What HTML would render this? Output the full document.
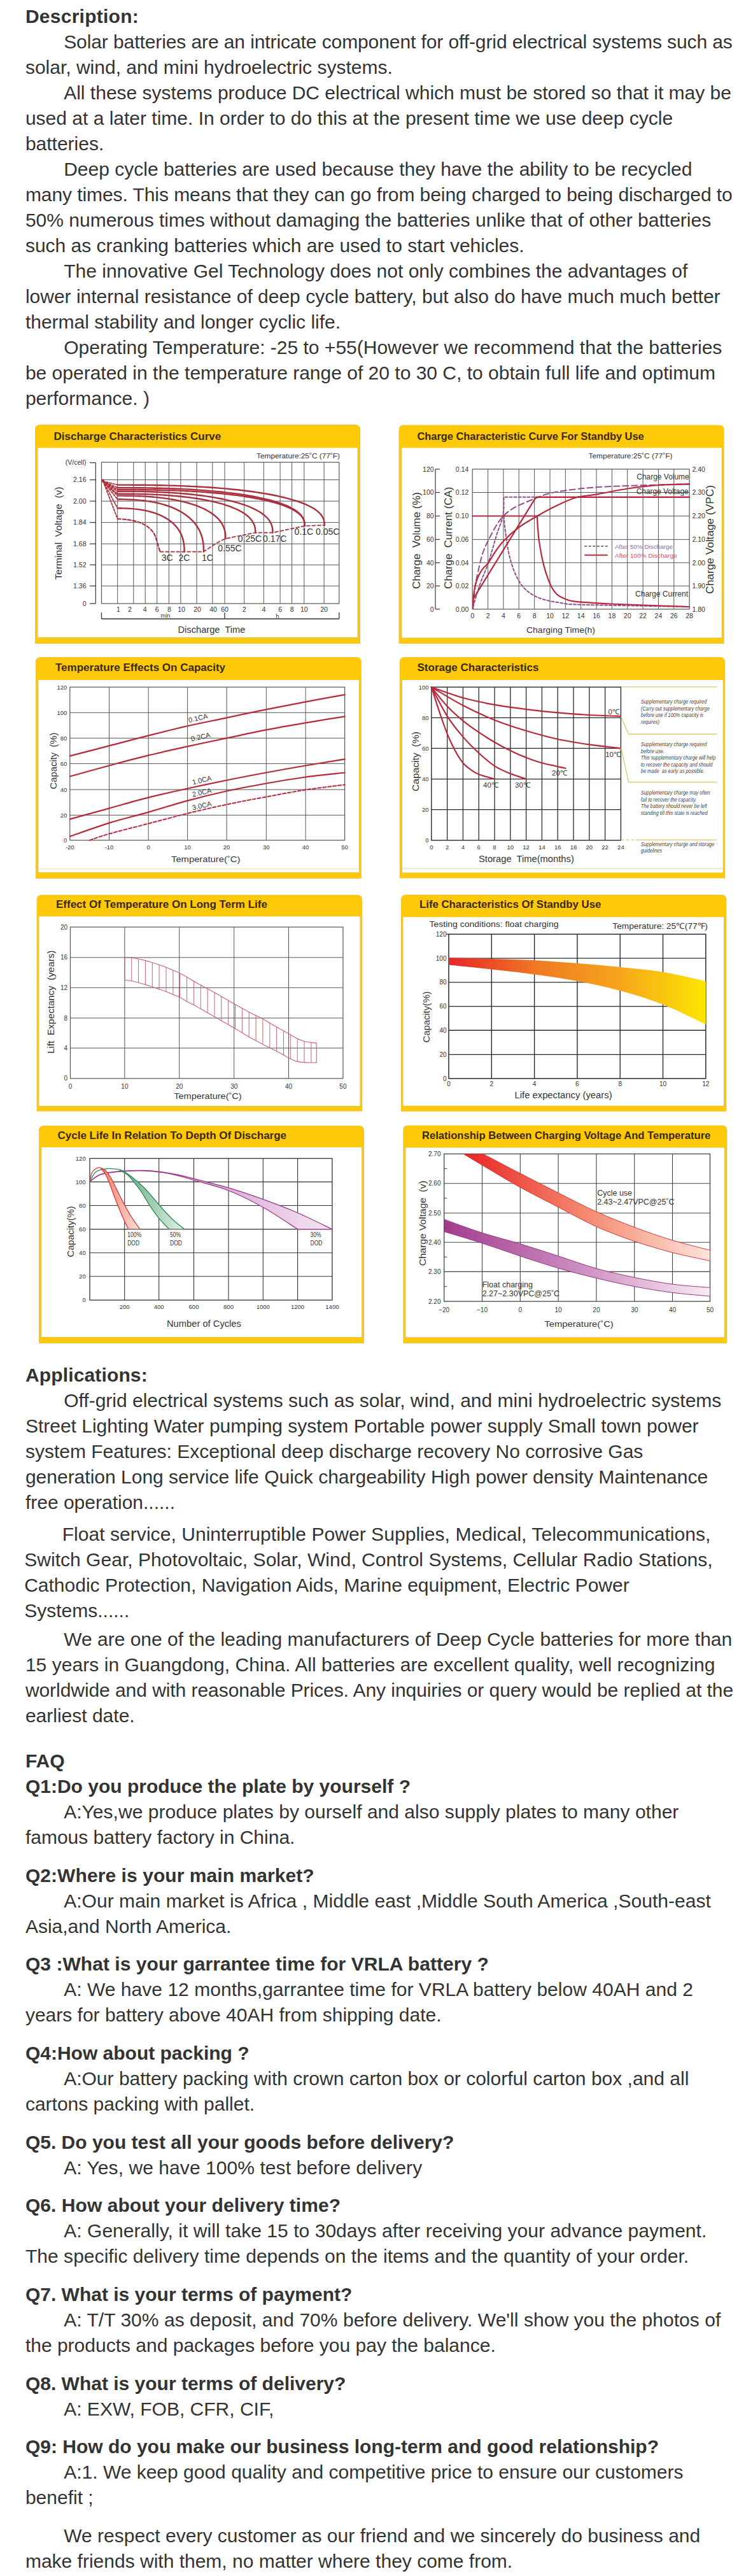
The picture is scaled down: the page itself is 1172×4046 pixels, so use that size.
<!DOCTYPE html>
<html><head><meta charset="utf-8"><title>Solar Gel Battery</title>
<style>
html,body{margin:0;padding:0;background:#fff;}
body{width:1172px;height:4046px;position:relative;overflow:hidden;font-family:"Liberation Sans", sans-serif;}
.tl{position:absolute;white-space:nowrap;font-size:30px;line-height:40px;color:#333333;}
.b{font-weight:bold;}
svg{position:absolute;left:0;top:0;}
svg text{font-family:"Liberation Sans", sans-serif;white-space:pre;}
</style></head><body>
<div class="tl b" style="left:39.9px;top:5.7px;letter-spacing:0.2545px">Description:</div>
<div class="tl" style="left:100.2px;top:45.7px;letter-spacing:-0.0938px">Solar batteries are an intricate component for off-grid electrical systems such as</div>
<div class="tl" style="left:39.9px;top:85.7px">solar, wind, and mini hydroelectric systems.</div>
<div class="tl" style="left:100.2px;top:125.7px">All these systems produce DC electrical which must be stored so that it may be</div>
<div class="tl" style="left:39.9px;top:165.7px">used at a later time. In order to do this at the present time we use deep cycle</div>
<div class="tl" style="left:39.9px;top:205.7px">batteries.</div>
<div class="tl" style="left:100.2px;top:245.7px">Deep cycle batteries are used because they have the ability to be recycled</div>
<div class="tl" style="left:39.9px;top:285.7px;letter-spacing:-0.0738px">many times. This means that they can go from being charged to being discharged to</div>
<div class="tl" style="left:39.9px;top:325.7px">50% numerous times without damaging the batteries unlike that of other batteries</div>
<div class="tl" style="left:39.9px;top:365.7px">such as cranking batteries which are used to start vehicles.</div>
<div class="tl" style="left:100.2px;top:405.7px">The innovative Gel Technology does not only combines the advantages of</div>
<div class="tl" style="left:39.9px;top:445.7px">lower internal resistance of deep cycle battery, but also do have much much better</div>
<div class="tl" style="left:39.9px;top:485.7px">thermal stability and longer cyclic life.</div>
<div class="tl" style="left:100.2px;top:525.7px">Operating Temperature: -25 to +55(However we recommend that the batteries</div>
<div class="tl" style="left:39.9px;top:565.7px">be operated in the temperature range of 20 to 30 C, to obtain full life and optimum</div>
<div class="tl" style="left:39.9px;top:605.7px">performance. )</div>
<div class="tl b" style="left:39.9px;top:2139.9px;letter-spacing:0.1500px">Applications:</div>
<div class="tl" style="left:100.2px;top:2179.9px">Off-grid electrical systems such as solar, wind, and mini hydroelectric systems</div>
<div class="tl" style="left:39.9px;top:2219.9px">Street Lighting Water pumping system Portable power supply Small town power</div>
<div class="tl" style="left:39.9px;top:2259.9px">system Features: Exceptional deep discharge recovery No corrosive Gas</div>
<div class="tl" style="left:39.9px;top:2299.9px">generation Long service life Quick chargeability High power density Maintenance</div>
<div class="tl" style="left:39.9px;top:2339.9px">free operation......</div>
<div class="tl" style="left:97.7px;top:2390.0px;letter-spacing:0.0514px">Float service, Uninterruptible Power Supplies, Medical, Telecommunications,</div>
<div class="tl" style="left:38.2px;top:2430.0px;letter-spacing:0.0338px">Switch Gear, Photovoltaic, Solar, Wind, Control Systems, Cellular Radio Stations,</div>
<div class="tl" style="left:38.2px;top:2470.0px">Cathodic Protection, Navigation Aids, Marine equipment, Electric Power</div>
<div class="tl" style="left:38.2px;top:2510.0px">Systems......</div>
<div class="tl" style="left:100.2px;top:2554.7px">We are one of the leading manufacturers of Deep Cycle batteries for more than</div>
<div class="tl" style="left:39.9px;top:2594.7px;letter-spacing:0.0427px">15 years in Guangdong, China. All batteries are excellent quality, well recognizing</div>
<div class="tl" style="left:39.9px;top:2634.7px;letter-spacing:-0.0614px">worldwide and with reasonable Prices. Any inquiries or query would be replied at the</div>
<div class="tl" style="left:39.9px;top:2674.7px">earliest date.</div>
<div class="tl b" style="left:39.9px;top:2745.8px">FAQ</div>
<div class="tl b" style="left:39.9px;top:2785.8px">Q1:Do you produce the plate by yourself ?</div>
<div class="tl" style="left:100.2px;top:2825.8px;letter-spacing:0.0243px">A:Yes,we produce plates by ourself and also supply plates to many other</div>
<div class="tl" style="left:39.9px;top:2865.8px">famous battery factory in China.</div>
<div class="tl b" style="left:39.9px;top:2925.5px;letter-spacing:0.0714px">Q2:Where is your main market?</div>
<div class="tl" style="left:100.2px;top:2965.5px;letter-spacing:0.0392px">A:Our main market is Africa , Middle east ,Middle South America ,South-east</div>
<div class="tl" style="left:39.9px;top:3005.5px">Asia,and North America.</div>
<div class="tl b" style="left:39.9px;top:3065.1px;letter-spacing:0.0469px">Q3 :What is your garrantee time for VRLA battery ?</div>
<div class="tl" style="left:100.2px;top:3105.1px;letter-spacing:0.0324px">A: We have 12 months,garrantee time for VRLA battery below 40AH and 2</div>
<div class="tl" style="left:39.9px;top:3145.1px">years for battery above 40AH from shipping date.</div>
<div class="tl b" style="left:39.9px;top:3204.8px">Q4:How about packing ?</div>
<div class="tl" style="left:100.2px;top:3244.8px">A:Our battery packing with crown carton box or colorful carton box ,and all</div>
<div class="tl" style="left:39.9px;top:3284.8px">cartons packing with pallet.</div>
<div class="tl b" style="left:39.9px;top:3344.5px">Q5. Do you test all your goods before delivery?</div>
<div class="tl" style="left:100.2px;top:3384.5px;letter-spacing:0.0650px">A: Yes, we have 100% test before delivery</div>
<div class="tl b" style="left:39.9px;top:3444.2px;letter-spacing:0.0531px">Q6. How about your delivery time?</div>
<div class="tl" style="left:100.2px;top:3484.2px;letter-spacing:0.0461px">A: Generally, it will take 15 to 30days after receiving your advance payment.</div>
<div class="tl" style="left:39.9px;top:3524.2px;letter-spacing:0.0423px">The specific delivery time depends on the items and the quantity of your order.</div>
<div class="tl b" style="left:39.9px;top:3583.8px">Q7. What is your terms of payment?</div>
<div class="tl" style="left:100.2px;top:3623.8px;letter-spacing:0.0400px">A: T/T 30% as deposit, and 70% before delivery. We'll show you the photos of</div>
<div class="tl" style="left:39.9px;top:3663.8px">the products and packages before you pay the balance.</div>
<div class="tl b" style="left:39.9px;top:3723.5px">Q8. What is your terms of delivery?</div>
<div class="tl" style="left:100.2px;top:3763.5px">A: EXW, FOB, CFR, CIF,</div>
<div class="tl b" style="left:39.9px;top:3823.2px">Q9: How do you make our business long-term and good relationship?</div>
<div class="tl" style="left:100.2px;top:3863.2px">A:1. We keep good quality and competitive price to ensure our customers</div>
<div class="tl" style="left:39.9px;top:3903.2px">benefit ;</div>
<div class="tl" style="left:100.2px;top:3962.8px;letter-spacing:0.0254px">We respect every customer as our friend and we sincerely do business and</div>
<div class="tl" style="left:39.9px;top:4002.8px">make friends with them, no matter where they come from.</div>
<svg width="1172" height="4046" viewBox="0 0 1172 4046">
<path d="M55,1011 L55,675 Q55,667 63,667 L558,667 Q566,667 566,675 L566,1011 Z" fill="#F1C432"/>
<path d="M56,703.5 L56,675 Q56,668 63,668 L558,668 Q565,668 565,675 L565,703.5 Z" fill="#FDC908"/>
<rect x="56" y="1002.5" width="509.0" height="7.0" fill="#FDC908"/>
<rect x="59.5" y="703.5" width="502.0" height="297.5" fill="#fff"/>
<text x="84.5" y="690.5" font-size="17" font-weight="bold" fill="#3a2806">Discharge Characteristics Curve</text>
<path d="M626.5,1011 L626.5,675.4 Q626.5,667.4 634.5,667.4 L1129.7,667.4 Q1137.7,667.4 1137.7,675.4 L1137.7,1011 Z" fill="#F1C432"/>
<path d="M627.5,703.5 L627.5,675.4 Q627.5,668.4 634.5,668.4 L1129.7,668.4 Q1136.7,668.4 1136.7,675.4 L1136.7,703.5 Z" fill="#FDC908"/>
<rect x="627.5" y="1003.0" width="509.2" height="6.5" fill="#FDC908"/>
<rect x="631.4" y="703.5" width="502.4" height="298.0" fill="#fff"/>
<text x="655.5" y="690.5" font-size="16.4" font-weight="bold" fill="#3a2806">Charge Characteristic Curve For Standby Use</text>
<path d="M56,1380 L56,1040 Q56,1032 64,1032 L559.8,1032 Q567.8,1032 567.8,1040 L567.8,1380 Z" fill="#F1C432"/>
<path d="M57,1068 L57,1040 Q57,1033 64,1033 L559.8,1033 Q566.8,1033 566.8,1040 L566.8,1068 Z" fill="#FDC908"/>
<rect x="57" y="1371.5" width="509.8" height="7.0" fill="#FDC908"/>
<rect x="60.4" y="1068" width="503.5" height="302.0" fill="#fff"/>
<text x="87" y="1053.5" font-size="17" font-weight="bold" fill="#3a2806">Temperature Effects On Capacity</text>
<path d="M627.8,1379.5 L627.8,1040 Q627.8,1032 635.8,1032 L1131,1032 Q1139,1032 1139,1040 L1139,1379.5 Z" fill="#F1C432"/>
<path d="M628.8,1068 L628.8,1040 Q628.8,1033 635.8,1033 L1131,1033 Q1138,1033 1138,1040 L1138,1068 Z" fill="#FDC908"/>
<rect x="628.8" y="1372.0" width="509.2" height="6.0" fill="#FDC908"/>
<rect x="632" y="1068" width="503.6" height="302.5" fill="#fff"/>
<text x="655.5" y="1053.5" font-size="17" font-weight="bold" fill="#3a2806">Storage Characteristics</text>
<path d="M57.6,1745.5 L57.6,1413.5 Q57.6,1405.5 65.6,1405.5 L561,1405.5 Q569,1405.5 569,1413.5 L569,1745.5 Z" fill="#F1C432"/>
<path d="M58.6,1439.4 L58.6,1413.5 Q58.6,1406.5 65.6,1406.5 L561,1406.5 Q568,1406.5 568,1413.5 L568,1439.4 Z" fill="#FDC908"/>
<rect x="58.6" y="1738.5" width="509.4" height="5.5" fill="#FDC908"/>
<rect x="61.4" y="1439.4" width="504.0" height="297.6" fill="#fff"/>
<text x="88" y="1426" font-size="17" font-weight="bold" fill="#3a2806">Effect Of Temperature On Long Term Life</text>
<path d="M630,1745.8 L630,1413.3 Q630,1405.3 638,1405.3 L1133.2,1405.3 Q1141.2,1405.3 1141.2,1413.3 L1141.2,1745.8 Z" fill="#F1C432"/>
<path d="M631,1440.5 L631,1413.3 Q631,1406.3 638,1406.3 L1133.2,1406.3 Q1140.2,1406.3 1140.2,1413.3 L1140.2,1440.5 Z" fill="#FDC908"/>
<rect x="631" y="1738.2" width="509.2" height="6.1" fill="#FDC908"/>
<rect x="633.4" y="1440.5" width="503.6" height="296.2" fill="#fff"/>
<text x="659" y="1426" font-size="16.8" font-weight="bold" fill="#3a2806">Life Characteristics Of Standby Use</text>
<path d="M61,2110 L61,1776 Q61,1768 69,1768 L564,1768 Q572,1768 572,1776 L572,2110 Z" fill="#F1C432"/>
<path d="M62,1802 L62,1776 Q62,1769 69,1769 L564,1769 Q571,1769 571,1776 L571,1802 Z" fill="#FDC908"/>
<rect x="62" y="2101.5" width="509.0" height="7.0" fill="#FDC908"/>
<rect x="65.3" y="1802" width="502.9" height="298.0" fill="#fff"/>
<text x="90.5" y="1788.5" font-size="17" font-weight="bold" fill="#3a2806">Cycle Life In Relation To Depth Of Discharge</text>
<path d="M633.3,2110 L633.3,1775.6 Q633.3,1767.6 641.3,1767.6 L1134.3,1767.6 Q1142.3,1767.6 1142.3,1775.6 L1142.3,2110 Z" fill="#F1C432"/>
<path d="M634.3,1802.6 L634.3,1775.6 Q634.3,1768.6 641.3,1768.6 L1134.3,1768.6 Q1141.3,1768.6 1141.3,1775.6 L1141.3,1802.6 Z" fill="#FDC908"/>
<rect x="634.3" y="2101.8" width="507.0" height="6.7" fill="#FDC908"/>
<rect x="637.4" y="1802.6" width="500.6" height="297.7" fill="#fff"/>
<text x="663" y="1788.8" font-size="16.6" font-weight="bold" fill="#3a2806">Relationship Between Charging Voltage And Temperature</text>
<line x1="184.7" y1="726.1" x2="184.7" y2="948.0" stroke="#555" stroke-width="1" />
<line x1="209.8" y1="726.1" x2="209.8" y2="948.0" stroke="#555" stroke-width="1" />
<line x1="228.2" y1="726.1" x2="228.2" y2="948.0" stroke="#555" stroke-width="1" />
<line x1="246.7" y1="726.1" x2="246.7" y2="948.0" stroke="#555" stroke-width="1" />
<line x1="265.4" y1="726.1" x2="265.4" y2="948.0" stroke="#555" stroke-width="1" />
<line x1="283.9" y1="726.1" x2="283.9" y2="948.0" stroke="#555" stroke-width="1" />
<line x1="309.0" y1="726.1" x2="309.0" y2="948.0" stroke="#555" stroke-width="1" />
<line x1="333.8" y1="726.1" x2="333.8" y2="948.0" stroke="#555" stroke-width="1" />
<line x1="353.0" y1="726.1" x2="353.0" y2="948.0" stroke="#555" stroke-width="1" />
<line x1="383.7" y1="726.1" x2="383.7" y2="948.0" stroke="#555" stroke-width="1" />
<line x1="414.3" y1="726.1" x2="414.3" y2="948.0" stroke="#555" stroke-width="1" />
<line x1="440.1" y1="726.1" x2="440.1" y2="948.0" stroke="#555" stroke-width="1" />
<line x1="458.6" y1="726.1" x2="458.6" y2="948.0" stroke="#555" stroke-width="1" />
<line x1="477.8" y1="726.1" x2="477.8" y2="948.0" stroke="#555" stroke-width="1" />
<line x1="509.1" y1="726.1" x2="509.1" y2="948.0" stroke="#555" stroke-width="1" />
<line x1="159.5" y1="753.6" x2="532.8" y2="753.6" stroke="#555" stroke-width="1" />
<line x1="159.5" y1="787.1" x2="532.8" y2="787.1" stroke="#555" stroke-width="1" />
<line x1="159.5" y1="820.6" x2="532.8" y2="820.6" stroke="#555" stroke-width="1" />
<line x1="159.5" y1="854.2" x2="532.8" y2="854.2" stroke="#555" stroke-width="1" />
<line x1="159.5" y1="887.2" x2="532.8" y2="887.2" stroke="#555" stroke-width="1" />
<line x1="159.5" y1="920.3" x2="532.8" y2="920.3" stroke="#555" stroke-width="1" />
<rect x="159.5" y="726.1" width="373.3" height="221.9" fill="none" stroke="#555" stroke-width="1.2"/>
<line x1="150.3" y1="726.7" x2="150.3" y2="948.0" stroke="#444" stroke-width="1.3" />
<line x1="141.0" y1="726.7" x2="150.3" y2="726.7" stroke="#444" stroke-width="1.3" />
<line x1="141.0" y1="753.6" x2="150.3" y2="753.6" stroke="#444" stroke-width="1.3" />
<line x1="141.0" y1="787.1" x2="150.3" y2="787.1" stroke="#444" stroke-width="1.3" />
<line x1="141.0" y1="820.6" x2="150.3" y2="820.6" stroke="#444" stroke-width="1.3" />
<line x1="141.0" y1="854.2" x2="150.3" y2="854.2" stroke="#444" stroke-width="1.3" />
<line x1="141.0" y1="887.2" x2="150.3" y2="887.2" stroke="#444" stroke-width="1.3" />
<line x1="141.0" y1="920.3" x2="150.3" y2="920.3" stroke="#444" stroke-width="1.3" />
<line x1="141.0" y1="948.0" x2="150.3" y2="948.0" stroke="#444" stroke-width="1.3" />
<text x="135.5" y="730.4" font-size="10.5" text-anchor="end" fill="#333" >(V/cell)</text>
<text x="135.5" y="757.3" font-size="10.5" text-anchor="end" fill="#333" >2.16</text>
<text x="135.5" y="790.8" font-size="10.5" text-anchor="end" fill="#333" >2.00</text>
<text x="135.5" y="824.3" font-size="10.5" text-anchor="end" fill="#333" >1.84</text>
<text x="135.5" y="857.9" font-size="10.5" text-anchor="end" fill="#333" >1.68</text>
<text x="135.5" y="890.9" font-size="10.5" text-anchor="end" fill="#333" >1.52</text>
<text x="135.5" y="924.0" font-size="10.5" text-anchor="end" fill="#333" >1.36</text>
<text x="135.5" y="951.7" font-size="10.5" text-anchor="end" fill="#333" >0</text>
<text x="0" y="0" font-size="15" text-anchor="middle" fill="#333" textLength="146.1" lengthAdjust="spacingAndGlyphs" transform="translate(97.4,837.5) rotate(-90)">Terminal  Voltage  (v)</text>
<text x="534.0" y="719.5" font-size="10" text-anchor="end" fill="#333" textLength="131" lengthAdjust="spacingAndGlyphs">Temperature:25˚C (77˚F)</text>
<text x="186.0" y="960.5" font-size="10.5" text-anchor="middle" fill="#333" >1</text>
<text x="204.0" y="960.5" font-size="10.5" text-anchor="middle" fill="#333" >2</text>
<text x="227.6" y="960.5" font-size="10.5" text-anchor="middle" fill="#333" >4</text>
<text x="246.7" y="960.5" font-size="10.5" text-anchor="middle" fill="#333" >6</text>
<text x="266.0" y="960.5" font-size="10.5" text-anchor="middle" fill="#333" >8</text>
<text x="285.0" y="960.5" font-size="10.5" text-anchor="middle" fill="#333" >10</text>
<text x="310.0" y="960.5" font-size="10.5" text-anchor="middle" fill="#333" >20</text>
<text x="335.0" y="960.5" font-size="10.5" text-anchor="middle" fill="#333" >40</text>
<text x="353.0" y="960.5" font-size="10.5" text-anchor="middle" fill="#333" >60</text>
<text x="383.7" y="960.5" font-size="10.5" text-anchor="middle" fill="#333" >2</text>
<text x="414.3" y="960.5" font-size="10.5" text-anchor="middle" fill="#333" >4</text>
<text x="440.1" y="960.5" font-size="10.5" text-anchor="middle" fill="#333" >6</text>
<text x="458.6" y="960.5" font-size="10.5" text-anchor="middle" fill="#333" >8</text>
<text x="477.8" y="960.5" font-size="10.5" text-anchor="middle" fill="#333" >10</text>
<text x="509.1" y="960.5" font-size="10.5" text-anchor="middle" fill="#333" >20</text>
<text x="260.0" y="970.0" font-size="9.5" text-anchor="middle" fill="#333" >min</text>
<text x="436.0" y="970.5" font-size="9.5" text-anchor="middle" fill="#333" >h</text>
<line x1="159.5" y1="972.0" x2="532.8" y2="972.0" stroke="#333" stroke-width="1.3" />
<line x1="159.5" y1="962.0" x2="159.5" y2="972.0" stroke="#333" stroke-width="1.3" />
<line x1="353.0" y1="962.0" x2="353.0" y2="972.0" stroke="#333" stroke-width="1.3" />
<line x1="532.8" y1="962.0" x2="532.8" y2="972.0" stroke="#333" stroke-width="1.3" />
<text x="279.5" y="993.5" font-size="14" fill="#333" textLength="105.9" lengthAdjust="spacingAndGlyphs">Discharge  Time</text>
<path d="M184.7,761.6 L193.3,761.6 L201.9,761.6 L210.3,761.7 L218.7,761.7 L227.0,761.8 L235.1,761.9 L243.2,762.0 L251.2,762.2 L259.1,762.4 L267.0,762.6 L274.7,762.8 L282.3,763.1 L289.8,763.4 L297.3,763.7 L304.6,764.1 L311.9,764.5 L319.0,764.9 L326.1,765.3 L333.0,765.8 L339.9,766.3 L346.6,766.9 L353.3,767.4 L359.8,768.0 L366.2,768.7 L372.6,769.3 L378.8,770.0 L384.9,770.8 L390.9,771.5 L396.8,772.3 L402.6,773.1 L408.2,774.0 L413.8,774.9 L419.2,775.8 L424.5,776.8 L429.7,777.8 L434.8,778.8 L439.7,779.9 L444.5,781.0 L449.2,782.2 L453.7,783.3 L458.2,784.6 L462.4,785.8 L466.6,787.2 L470.6,788.5 L474.4,789.9 L478.1,791.4 L481.7,792.9 L485.0,794.5 L488.3,796.1 L491.3,797.8 L494.2,799.6 L496.9,801.4 L499.3,803.4 L501.6,805.5 L503.7,807.7 L505.5,810.0 L507.1,812.6 L508.4,815.6 L509.3,819.0 L509.8,825.0" stroke="#ab2e3c" stroke-width="2.4" fill="none" stroke-linecap="round" stroke-linejoin="round" />
<path d="M184.7,766.1 L192.5,766.1 L200.2,766.1 L207.9,766.2 L215.4,766.2 L222.9,766.3 L230.3,766.4 L237.6,766.5 L244.9,766.7 L252.0,766.8 L259.1,767.0 L266.1,767.3 L273.0,767.5 L279.8,767.8 L286.6,768.1 L293.2,768.4 L299.7,768.8 L306.2,769.2 L312.6,769.6 L318.9,770.1 L325.1,770.6 L331.2,771.1 L337.2,771.6 L343.1,772.2 L348.9,772.8 L354.6,773.4 L360.3,774.1 L365.8,774.8 L371.2,775.5 L376.6,776.2 L381.8,777.0 L386.9,777.8 L391.9,778.7 L396.8,779.5 L401.6,780.4 L406.3,781.4 L410.9,782.4 L415.4,783.4 L419.7,784.4 L424.0,785.5 L428.1,786.6 L432.1,787.8 L436.0,789.0 L439.7,790.2 L443.3,791.5 L446.8,792.9 L450.1,794.2 L453.3,795.7 L456.4,797.2 L459.3,798.7 L462.1,800.3 L464.7,802.0 L467.1,803.7 L469.3,805.6 L471.4,807.6 L473.3,809.6 L474.9,811.9 L476.4,814.3 L477.5,817.1 L478.4,820.4 L478.8,826.0" stroke="#ab2e3c" stroke-width="2.4" fill="none" stroke-linecap="round" stroke-linejoin="round" />
<path d="M184.7,769.0 L192.5,769.0 L200.2,769.0 L207.9,769.1 L215.4,769.1 L222.9,769.2 L230.3,769.3 L237.6,769.4 L244.9,769.5 L252.0,769.7 L259.1,769.9 L266.1,770.1 L273.0,770.3 L279.8,770.6 L286.6,770.9 L293.2,771.2 L299.7,771.6 L306.2,772.0 L312.6,772.4 L318.9,772.8 L325.1,773.2 L331.2,773.7 L337.2,774.2 L343.1,774.8 L348.9,775.4 L354.6,776.0 L360.3,776.6 L365.8,777.2 L371.2,777.9 L376.6,778.6 L381.8,779.4 L386.9,780.2 L391.9,781.0 L396.8,781.8 L401.6,782.7 L406.3,783.6 L410.9,784.5 L415.4,785.4 L419.7,786.4 L424.0,787.5 L428.1,788.5 L432.1,789.6 L436.0,790.8 L439.7,792.0 L443.3,793.2 L446.8,794.5 L450.1,795.8 L453.3,797.1 L456.4,798.6 L459.3,800.0 L462.1,801.6 L464.7,803.2 L467.1,804.8 L469.3,806.6 L471.4,808.4 L473.3,810.4 L474.9,812.6 L476.4,814.9 L477.5,817.5 L478.4,820.6 L478.8,826.0" stroke="#ab2e3c" stroke-width="2.4" fill="none" stroke-linecap="round" stroke-linejoin="round" />
<path d="M184.7,771.7 L191.2,771.7 L197.6,771.7 L203.9,771.8 L210.2,771.8 L216.4,771.9 L222.5,772.0 L228.6,772.1 L234.6,772.3 L240.5,772.5 L246.4,772.7 L252.2,773.0 L257.9,773.2 L263.6,773.5 L269.1,773.9 L274.6,774.2 L280.1,774.6 L285.4,775.1 L290.7,775.5 L295.9,776.0 L301.1,776.5 L306.1,777.1 L311.1,777.7 L316.0,778.3 L320.8,778.9 L325.6,779.6 L330.2,780.3 L334.8,781.1 L339.3,781.9 L343.7,782.7 L348.1,783.5 L352.3,784.4 L356.5,785.3 L360.6,786.3 L364.5,787.2 L368.4,788.3 L372.2,789.3 L375.9,790.4 L379.5,791.6 L383.0,792.7 L386.5,794.0 L389.8,795.2 L393.0,796.5 L396.1,797.9 L399.1,799.3 L402.0,800.7 L404.7,802.2 L407.4,803.7 L409.9,805.3 L412.3,807.0 L414.6,808.8 L416.8,810.6 L418.8,812.5 L420.7,814.5 L422.4,816.6 L423.9,818.9 L425.3,821.3 L426.5,823.9 L427.4,826.9 L428.2,830.5 L428.5,836.6" stroke="#ab2e3c" stroke-width="2.4" fill="none" stroke-linecap="round" stroke-linejoin="round" />
<path d="M184.7,775.7 L190.4,775.7 L196.1,775.7 L201.8,775.8 L207.3,775.8 L212.8,775.9 L218.3,776.0 L223.7,776.1 L229.0,776.3 L234.3,776.4 L239.5,776.6 L244.7,776.9 L249.7,777.1 L254.8,777.4 L259.7,777.7 L264.6,778.1 L269.4,778.5 L274.2,778.9 L278.9,779.3 L283.5,779.7 L288.1,780.2 L292.6,780.8 L297.0,781.3 L301.4,781.9 L305.6,782.5 L309.9,783.1 L314.0,783.8 L318.1,784.5 L322.1,785.2 L326.0,786.0 L329.8,786.8 L333.6,787.6 L337.3,788.5 L340.9,789.4 L344.5,790.3 L347.9,791.2 L351.3,792.2 L354.6,793.3 L357.8,794.3 L360.9,795.4 L364.0,796.6 L366.9,797.8 L369.7,799.0 L372.5,800.2 L375.2,801.6 L377.7,802.9 L380.2,804.3 L382.6,805.8 L384.8,807.3 L387.0,808.8 L389.0,810.5 L390.9,812.2 L392.7,814.0 L394.3,815.9 L395.9,817.8 L397.2,820.0 L398.5,822.2 L399.5,824.7 L400.4,827.5 L401.0,830.9 L401.3,836.6" stroke="#ab2e3c" stroke-width="2.4" fill="none" stroke-linecap="round" stroke-linejoin="round" />
<path d="M184.7,778.6 L189.2,778.6 L193.7,778.6 L198.1,778.7 L202.4,778.7 L206.8,778.8 L211.0,778.9 L215.3,779.1 L219.4,779.2 L223.6,779.4 L227.6,779.6 L231.7,779.9 L235.7,780.2 L239.6,780.5 L243.5,780.9 L247.3,781.2 L251.1,781.6 L254.8,782.1 L258.5,782.6 L262.1,783.1 L265.7,783.6 L269.2,784.2 L272.7,784.8 L276.1,785.4 L279.5,786.1 L282.8,786.8 L286.0,787.6 L289.2,788.3 L292.3,789.1 L295.4,790.0 L298.4,790.9 L301.4,791.8 L304.3,792.7 L307.1,793.7 L309.9,794.7 L312.6,795.8 L315.2,796.9 L317.8,798.0 L320.3,799.2 L322.8,800.4 L325.1,801.7 L327.4,803.0 L329.7,804.4 L331.8,805.8 L333.9,807.2 L335.9,808.7 L337.9,810.3 L339.7,811.9 L341.5,813.5 L343.2,815.3 L344.7,817.1 L346.2,819.0 L347.6,821.0 L348.9,823.0 L350.1,825.2 L351.2,827.6 L352.2,830.1 L353.0,832.9 L353.7,836.0 L354.2,839.7 L354.4,846.0" stroke="#ab2e3c" stroke-width="2.4" fill="none" stroke-linecap="round" stroke-linejoin="round" />
<path d="M184.7,784.3 L188.3,784.3 L191.8,784.3 L195.4,784.4 L198.8,784.5 L202.3,784.6 L205.7,784.7 L209.1,784.9 L212.4,785.1 L215.7,785.3 L218.9,785.6 L222.1,785.9 L225.3,786.2 L228.5,786.6 L231.6,787.1 L234.6,787.5 L237.6,788.0 L240.6,788.6 L243.5,789.1 L246.4,789.8 L249.3,790.4 L252.1,791.1 L254.9,791.9 L257.6,792.7 L260.2,793.5 L262.9,794.3 L265.5,795.2 L268.0,796.2 L270.5,797.2 L273.0,798.2 L275.4,799.3 L277.7,800.4 L280.0,801.6 L282.3,802.8 L284.5,804.0 L286.7,805.3 L288.8,806.7 L290.8,808.0 L292.8,809.5 L294.8,811.0 L296.7,812.5 L298.5,814.1 L300.3,815.8 L302.0,817.5 L303.7,819.2 L305.3,821.1 L306.8,823.0 L308.3,824.9 L309.7,827.0 L311.0,829.1 L312.3,831.3 L313.5,833.6 L314.6,836.0 L315.7,838.6 L316.6,841.3 L317.5,844.1 L318.2,847.2 L318.9,850.6 L319.4,854.3 L319.8,858.9 L320.0,866.6" stroke="#ab2e3c" stroke-width="2.4" fill="none" stroke-linecap="round" stroke-linejoin="round" />
<path d="M184.7,798.3 L187.5,798.3 L190.2,798.3 L193.0,798.4 L195.7,798.4 L198.3,798.5 L201.0,798.6 L203.6,798.8 L206.2,798.9 L208.7,799.1 L211.2,799.4 L213.7,799.6 L216.2,799.9 L218.6,800.2 L221.0,800.6 L223.4,801.0 L225.7,801.4 L228.0,801.8 L230.3,802.3 L232.6,802.8 L234.8,803.4 L236.9,804.0 L239.1,804.6 L241.2,805.2 L243.3,805.9 L245.3,806.6 L247.3,807.4 L249.3,808.2 L251.2,809.0 L253.1,809.8 L255.0,810.7 L256.8,811.7 L258.6,812.6 L260.4,813.6 L262.1,814.7 L263.8,815.7 L265.4,816.9 L267.0,818.0 L268.5,819.2 L270.0,820.4 L271.5,821.7 L272.9,823.0 L274.3,824.4 L275.7,825.8 L276.9,827.3 L278.2,828.8 L279.4,830.4 L280.5,832.0 L281.6,833.7 L282.7,835.5 L283.6,837.3 L284.6,839.2 L285.4,841.2 L286.2,843.3 L287.0,845.6 L287.6,847.9 L288.2,850.5 L288.7,853.3 L289.1,856.4 L289.5,860.2 L289.6,866.6" stroke="#ab2e3c" stroke-width="2.4" fill="none" stroke-linecap="round" stroke-linejoin="round" />
<path d="M184.7,815 C212,816 232,822 242,838 C247,848 248,858 251.7,866.6" stroke="#ab2e3c" stroke-width="2.2" fill="none" stroke-linecap="round" stroke-linejoin="round" stroke-dasharray="5,3"/>
<path d="M251.7,866.6 L320,866.6 C330,860 340,852 354.4,846 L401.3,836.6 L428.5,836.6 L478.8,826 L509.8,825" stroke="#ab2e3c" stroke-width="1.7" fill="none" stroke-linecap="round" stroke-linejoin="round" stroke-dasharray="5,3.5"/>
<circle cx="161.5" cy="755" r="2.4" fill="#ab2e3c"/>
<path d="M162,756 L184.7,761.6" stroke="#ab2e3c" stroke-width="1.8" fill="none" stroke-linecap="round" stroke-linejoin="round" stroke-dasharray="3,2.2"/>
<path d="M162,756 L184.7,766.1" stroke="#ab2e3c" stroke-width="1.8" fill="none" stroke-linecap="round" stroke-linejoin="round" stroke-dasharray="3,2.2"/>
<path d="M162,756 L184.7,769" stroke="#ab2e3c" stroke-width="1.8" fill="none" stroke-linecap="round" stroke-linejoin="round" stroke-dasharray="3,2.2"/>
<path d="M162,756 L184.7,771.7" stroke="#ab2e3c" stroke-width="1.8" fill="none" stroke-linecap="round" stroke-linejoin="round" stroke-dasharray="3,2.2"/>
<path d="M162,756 L184.7,775.7" stroke="#ab2e3c" stroke-width="1.8" fill="none" stroke-linecap="round" stroke-linejoin="round" stroke-dasharray="3,2.2"/>
<path d="M162,756 L184.7,778.6" stroke="#ab2e3c" stroke-width="1.8" fill="none" stroke-linecap="round" stroke-linejoin="round" stroke-dasharray="3,2.2"/>
<path d="M162,756 L184.7,784.3" stroke="#ab2e3c" stroke-width="1.8" fill="none" stroke-linecap="round" stroke-linejoin="round" stroke-dasharray="3,2.2"/>
<path d="M162,756 L184.7,798.3" stroke="#ab2e3c" stroke-width="1.8" fill="none" stroke-linecap="round" stroke-linejoin="round" stroke-dasharray="3,2.2"/>
<path d="M162,756 L184.7,815" stroke="#ab2e3c" stroke-width="1.8" fill="none" stroke-linecap="round" stroke-linejoin="round" stroke-dasharray="3,2.2"/>
<text x="262.7" y="881.0" font-size="14" text-anchor="middle" fill="#333" >3C</text>
<text x="289.5" y="881.0" font-size="14" text-anchor="middle" fill="#333" >2C</text>
<text x="326.0" y="881.0" font-size="14" text-anchor="middle" fill="#333" >1C</text>
<text x="361.0" y="865.5" font-size="14" text-anchor="middle" fill="#333" >0.55C</text>
<text x="392.4" y="850.5" font-size="14" text-anchor="middle" fill="#333" >0.25C</text>
<text x="431.8" y="850.5" font-size="14" text-anchor="middle" fill="#333" >0.17C</text>
<text x="477.4" y="840.0" font-size="14" text-anchor="middle" fill="#333" >0.1C</text>
<text x="514.7" y="840.0" font-size="14" text-anchor="middle" fill="#333" >0.05C</text>
<line x1="766.6" y1="736.9" x2="766.6" y2="956.8" stroke="#555" stroke-width="1" />
<line x1="790.9" y1="736.9" x2="790.9" y2="956.8" stroke="#555" stroke-width="1" />
<line x1="815.2" y1="736.9" x2="815.2" y2="956.8" stroke="#555" stroke-width="1" />
<line x1="839.6" y1="736.9" x2="839.6" y2="956.8" stroke="#555" stroke-width="1" />
<line x1="864.0" y1="736.9" x2="864.0" y2="956.8" stroke="#555" stroke-width="1" />
<line x1="888.3" y1="736.9" x2="888.3" y2="956.8" stroke="#555" stroke-width="1" />
<line x1="912.7" y1="736.9" x2="912.7" y2="956.8" stroke="#555" stroke-width="1" />
<line x1="937.0" y1="736.9" x2="937.0" y2="956.8" stroke="#555" stroke-width="1" />
<line x1="961.4" y1="736.9" x2="961.4" y2="956.8" stroke="#555" stroke-width="1" />
<line x1="985.7" y1="736.9" x2="985.7" y2="956.8" stroke="#555" stroke-width="1" />
<line x1="1010.1" y1="736.9" x2="1010.1" y2="956.8" stroke="#555" stroke-width="1" />
<line x1="1034.4" y1="736.9" x2="1034.4" y2="956.8" stroke="#555" stroke-width="1" />
<line x1="1058.8" y1="736.9" x2="1058.8" y2="956.8" stroke="#555" stroke-width="1" />
<line x1="742.2" y1="773.5" x2="1083.1" y2="773.5" stroke="#555" stroke-width="1" />
<line x1="742.2" y1="810.5" x2="1083.1" y2="810.5" stroke="#555" stroke-width="1" />
<line x1="742.2" y1="847.4" x2="1083.1" y2="847.4" stroke="#555" stroke-width="1" />
<line x1="742.2" y1="883.8" x2="1083.1" y2="883.8" stroke="#555" stroke-width="1" />
<line x1="742.2" y1="920.3" x2="1083.1" y2="920.3" stroke="#555" stroke-width="1" />
<rect x="742.2" y="736.9" width="340.9" height="219.9" fill="none" stroke="#555" stroke-width="1.2"/>
<line x1="684.0" y1="736.9" x2="684.0" y2="956.8" stroke="#444" stroke-width="1.3" />
<line x1="684.0" y1="736.9" x2="691.0" y2="736.9" stroke="#444" stroke-width="1.3" />
<text x="681.6" y="740.6" font-size="10.5" text-anchor="end" fill="#333" >120</text>
<line x1="684.0" y1="773.5" x2="691.0" y2="773.5" stroke="#444" stroke-width="1.3" />
<text x="681.6" y="777.2" font-size="10.5" text-anchor="end" fill="#333" >100</text>
<line x1="684.0" y1="810.5" x2="691.0" y2="810.5" stroke="#444" stroke-width="1.3" />
<text x="681.6" y="814.2" font-size="10.5" text-anchor="end" fill="#333" >80</text>
<line x1="684.0" y1="847.4" x2="691.0" y2="847.4" stroke="#444" stroke-width="1.3" />
<text x="681.6" y="851.1" font-size="10.5" text-anchor="end" fill="#333" >60</text>
<line x1="684.0" y1="883.8" x2="691.0" y2="883.8" stroke="#444" stroke-width="1.3" />
<text x="681.6" y="887.5" font-size="10.5" text-anchor="end" fill="#333" >40</text>
<line x1="684.0" y1="920.3" x2="691.0" y2="920.3" stroke="#444" stroke-width="1.3" />
<text x="681.6" y="924.0" font-size="10.5" text-anchor="end" fill="#333" >20</text>
<line x1="684.0" y1="956.8" x2="691.0" y2="956.8" stroke="#444" stroke-width="1.3" />
<text x="681.6" y="960.5" font-size="10.5" text-anchor="end" fill="#333" >0</text>
<text x="736.3" y="740.6" font-size="10.5" text-anchor="end" fill="#333" >0.14</text>
<text x="736.3" y="777.2" font-size="10.5" text-anchor="end" fill="#333" >0.12</text>
<text x="736.3" y="814.2" font-size="10.5" text-anchor="end" fill="#333" >0.10</text>
<text x="736.3" y="851.1" font-size="10.5" text-anchor="end" fill="#333" >0.06</text>
<text x="736.3" y="887.5" font-size="10.5" text-anchor="end" fill="#333" >0.04</text>
<text x="736.3" y="924.0" font-size="10.5" text-anchor="end" fill="#333" >0.02</text>
<text x="736.3" y="960.5" font-size="10.5" text-anchor="end" fill="#333" >0.00</text>
<text x="1087.4" y="740.6" font-size="10.5" text-anchor="start" fill="#333" >2.40</text>
<text x="1087.4" y="777.2" font-size="10.5" text-anchor="start" fill="#333" >2.30</text>
<text x="1087.4" y="814.2" font-size="10.5" text-anchor="start" fill="#333" >2.20</text>
<text x="1087.4" y="851.1" font-size="10.5" text-anchor="start" fill="#333" >2.10</text>
<text x="1087.4" y="887.5" font-size="10.5" text-anchor="start" fill="#333" >2.00</text>
<text x="1087.4" y="924.0" font-size="10.5" text-anchor="start" fill="#333" >1.90</text>
<text x="1087.4" y="960.5" font-size="10.5" text-anchor="start" fill="#333" >1.80</text>
<text x="0" y="0" font-size="16" text-anchor="middle" fill="#333" textLength="152.1" lengthAdjust="spacingAndGlyphs" transform="translate(659.7,849.0) rotate(-90)">Charge  Volume (%)</text>
<text x="0" y="0" font-size="16" text-anchor="middle" fill="#333" textLength="160.5" lengthAdjust="spacingAndGlyphs" transform="translate(709.8,844.8) rotate(-90)">Charge  Current (CA)</text>
<text x="0" y="0" font-size="16" text-anchor="middle" fill="#333" textLength="170.7" lengthAdjust="spacingAndGlyphs" transform="translate(1120.5,847.4) rotate(-90)">Charge Voltage (VPC)</text>
<text x="742.2" y="970.5" font-size="10.5" text-anchor="middle" fill="#333" >0</text>
<text x="766.6" y="970.5" font-size="10.5" text-anchor="middle" fill="#333" >2</text>
<text x="790.9" y="970.5" font-size="10.5" text-anchor="middle" fill="#333" >4</text>
<text x="815.2" y="970.5" font-size="10.5" text-anchor="middle" fill="#333" >6</text>
<text x="839.6" y="970.5" font-size="10.5" text-anchor="middle" fill="#333" >8</text>
<text x="864.0" y="970.5" font-size="10.5" text-anchor="middle" fill="#333" >10</text>
<text x="888.3" y="970.5" font-size="10.5" text-anchor="middle" fill="#333" >12</text>
<text x="912.7" y="970.5" font-size="10.5" text-anchor="middle" fill="#333" >14</text>
<text x="937.0" y="970.5" font-size="10.5" text-anchor="middle" fill="#333" >16</text>
<text x="961.4" y="970.5" font-size="10.5" text-anchor="middle" fill="#333" >18</text>
<text x="985.7" y="970.5" font-size="10.5" text-anchor="middle" fill="#333" >20</text>
<text x="1010.1" y="970.5" font-size="10.5" text-anchor="middle" fill="#333" >22</text>
<text x="1034.4" y="970.5" font-size="10.5" text-anchor="middle" fill="#333" >24</text>
<text x="1058.8" y="970.5" font-size="10.5" text-anchor="middle" fill="#333" >26</text>
<text x="1083.1" y="970.5" font-size="10.5" text-anchor="middle" fill="#333" >28</text>
<text x="827.0" y="994.0" font-size="13.5" fill="#333" textLength="108.0" lengthAdjust="spacingAndGlyphs">Charging Time(h)</text>
<text x="1056.5" y="719.5" font-size="10" text-anchor="end" fill="#333" textLength="132" lengthAdjust="spacingAndGlyphs">Temperature:25˚C (77˚F)</text>
<path d="M743.0,952.9 C743.6,947.6 745.1,930.1 746.4,921.0 C747.7,911.9 749.1,906.6 751.0,898.2 C752.9,889.9 755.1,879.1 757.8,870.9 C760.4,862.7 763.1,857.0 766.9,849.2 C770.7,841.4 776.5,830.7 780.6,824.1 C784.7,817.5 787.7,813.8 791.5,809.8 C795.3,805.8 799.3,802.9 803.4,800.2 C807.5,797.5 809.8,796.2 815.9,793.4 C822.0,790.5 832.2,786.2 840.3,783.1 C848.4,780.0 853.6,777.2 864.4,774.7 C875.1,772.2 888.9,770.1 904.8,768.3 C920.7,766.5 930.3,765.4 960.0,764.0 C989.7,762.6 1062.5,760.8 1083.0,760.2" stroke="#94508a" stroke-width="2" fill="none" stroke-linecap="round" stroke-linejoin="round" stroke-dasharray="9,5"/>
<path d="M743.0,953.0 C745.0,946.7 751.0,926.4 755.0,915.0 C759.0,903.6 762.7,897.2 767.0,884.5 C771.3,871.8 777.0,850.4 780.6,839.0 C784.2,827.6 786.8,822.5 788.6,816.0 C790.4,809.5 791.0,802.7 791.5,800.0 L791.5,780.8 L1083,780.8" stroke="#94508a" stroke-width="2" fill="none" stroke-linecap="round" stroke-linejoin="round" stroke-dasharray="4,3"/>
<path d="M791.5,810.5 C791.8,813.4 792.5,821.7 793.1,827.6 C793.8,833.5 794.5,839.3 795.4,845.8 C796.3,852.2 797.5,859.8 798.8,866.3 C800.1,872.8 801.5,878.4 803.4,884.5 C805.3,890.6 807.6,897.1 810.2,902.8 C812.9,908.5 815.9,914.2 819.3,918.7 C822.7,923.2 826.5,926.9 830.7,930.1 C834.9,933.3 839.1,935.8 844.4,938.1 C849.7,940.4 856.1,942.3 862.6,943.8 C869.1,945.3 876.1,946.2 883.1,947.2 C890.1,948.2 885.3,948.8 904.8,949.5 C924.3,950.2 970.3,950.9 1000.0,951.5 C1029.7,952.1 1069.2,952.8 1083.0,953.0" stroke="#94508a" stroke-width="2" fill="none" stroke-linecap="round" stroke-linejoin="round" stroke-dasharray="4,3"/>
<path d="M742.2,810.5 L843.9,810.5" stroke="#b8283a" stroke-width="2.2" fill="none" stroke-linecap="round" stroke-linejoin="round" />
<path d="M843.9,810.5 C844.0,813.4 844.3,821.3 844.8,827.6 C845.3,833.9 845.8,841.3 846.7,848.1 C847.6,854.9 848.8,861.8 850.1,868.6 C851.4,875.4 852.9,882.7 854.6,889.1 C856.3,895.5 858.2,901.6 860.3,907.3 C862.4,913.0 864.5,918.7 867.2,923.3 C869.9,927.9 872.5,931.7 876.3,934.7 C880.1,937.7 885.2,939.8 890.0,941.5 C894.8,943.2 893.1,943.7 904.8,944.9 C916.5,946.1 930.3,947.1 960.0,948.5 C989.7,949.9 1062.5,952.2 1083.0,953.0" stroke="#b8283a" stroke-width="2.2" fill="none" stroke-linecap="round" stroke-linejoin="round" />
<path d="M743,941.5 L842,780.8 L1083,780.8" stroke="#b8283a" stroke-width="2.2" fill="none" stroke-linecap="round" stroke-linejoin="round" />
<path d="M743.0,955.2 C743.2,951.8 743.4,941.2 744.1,934.7 C744.9,928.2 746.0,921.9 747.5,916.4 C749.0,910.9 751.1,905.8 753.2,901.6 C755.3,897.4 757.8,894.2 760.1,891.4 C762.4,888.5 763.9,888.7 766.9,884.5 C769.9,880.3 774.2,872.2 778.3,866.3 C782.4,860.4 785.4,855.5 791.5,849.2 C797.6,842.9 806.7,834.8 814.8,828.7 C822.9,822.6 830.8,818.2 840.3,812.7 C849.8,807.2 861.0,800.8 871.7,795.6 C882.5,790.4 893.8,784.7 904.8,781.5 C915.8,778.3 924.0,778.7 937.5,776.4 C951.0,774.1 969.8,769.9 986.0,767.5 C1002.2,765.1 1018.3,763.2 1034.5,762.0 C1050.7,760.8 1074.9,760.7 1083.0,760.4" stroke="#b8283a" stroke-width="2.2" fill="none" stroke-linecap="round" stroke-linejoin="round" />
<text x="1000.3" y="753.0" font-size="12" fill="#333" textLength="82.4" lengthAdjust="spacingAndGlyphs">Charge Volume</text>
<text x="999.7" y="776.3" font-size="12" fill="#333" textLength="82.0" lengthAdjust="spacingAndGlyphs">Charge Voltage</text>
<text x="998.0" y="936.5" font-size="12" fill="#333" textLength="83.0" lengthAdjust="spacingAndGlyphs">Charge Current</text>
<line x1="918.2" y1="857.8" x2="954.7" y2="857.8" stroke="#7a5a8a" stroke-width="1.8" stroke-dasharray="4,2.5"/>
<line x1="918.2" y1="871.9" x2="954.7" y2="871.9" stroke="#c8404a" stroke-width="2.4" />
<text x="966.0" y="861.6" font-size="9.5" text-anchor="start" fill="#8a6aa8" textLength="91" lengthAdjust="spacingAndGlyphs">After 50% Discharge</text>
<text x="966.0" y="876.0" font-size="9.5" text-anchor="start" fill="#d05060" textLength="97.6" lengthAdjust="spacingAndGlyphs">After 100% Discharge</text>
<line x1="171.5" y1="1079.2" x2="171.5" y2="1319.7" stroke="#555" stroke-width="1" />
<line x1="233.2" y1="1079.2" x2="233.2" y2="1319.7" stroke="#555" stroke-width="1" />
<line x1="294.6" y1="1079.2" x2="294.6" y2="1319.7" stroke="#555" stroke-width="1" />
<line x1="356.1" y1="1079.2" x2="356.1" y2="1319.7" stroke="#555" stroke-width="1" />
<line x1="418.3" y1="1079.2" x2="418.3" y2="1319.7" stroke="#555" stroke-width="1" />
<line x1="480.1" y1="1079.2" x2="480.1" y2="1319.7" stroke="#555" stroke-width="1" />
<line x1="109.8" y1="1119.3" x2="541.6" y2="1119.3" stroke="#555" stroke-width="1" />
<line x1="109.8" y1="1159.3" x2="541.6" y2="1159.3" stroke="#555" stroke-width="1" />
<line x1="109.8" y1="1199.4" x2="541.6" y2="1199.4" stroke="#555" stroke-width="1" />
<line x1="109.8" y1="1240.2" x2="541.6" y2="1240.2" stroke="#555" stroke-width="1" />
<line x1="109.8" y1="1280.3" x2="541.6" y2="1280.3" stroke="#555" stroke-width="1" />
<rect x="109.8" y="1079.2" width="431.8" height="240.5" fill="none" stroke="#555" stroke-width="1.2"/>
<text x="105.3" y="1082.5" font-size="9.5" text-anchor="end" fill="#333" >120</text>
<text x="105.3" y="1122.6" font-size="9.5" text-anchor="end" fill="#333" >100</text>
<text x="105.3" y="1162.6" font-size="9.5" text-anchor="end" fill="#333" >80</text>
<text x="105.3" y="1202.7" font-size="9.5" text-anchor="end" fill="#333" >60</text>
<text x="105.3" y="1243.5" font-size="9.5" text-anchor="end" fill="#333" >40</text>
<text x="105.3" y="1283.6" font-size="9.5" text-anchor="end" fill="#333" >20</text>
<text x="105.3" y="1323.0" font-size="9.5" text-anchor="end" fill="#333" >0</text>
<text x="109.8" y="1334.0" font-size="9.5" text-anchor="middle" fill="#333" >-20</text>
<text x="171.5" y="1334.0" font-size="9.5" text-anchor="middle" fill="#333" >-10</text>
<text x="233.2" y="1334.0" font-size="9.5" text-anchor="middle" fill="#333" >0</text>
<text x="294.6" y="1334.0" font-size="9.5" text-anchor="middle" fill="#333" >10</text>
<text x="356.1" y="1334.0" font-size="9.5" text-anchor="middle" fill="#333" >20</text>
<text x="418.3" y="1334.0" font-size="9.5" text-anchor="middle" fill="#333" >30</text>
<text x="480.1" y="1334.0" font-size="9.5" text-anchor="middle" fill="#333" >40</text>
<text x="541.6" y="1334.0" font-size="9.5" text-anchor="middle" fill="#333" >50</text>
<text x="0" y="0" font-size="14" text-anchor="middle" fill="#333" textLength="88.9" lengthAdjust="spacingAndGlyphs" transform="translate(89.0,1195.0) rotate(-90)">Capacity  (%)</text>
<text x="269.0" y="1353.5" font-size="13.5" fill="#333" textLength="108.4" lengthAdjust="spacingAndGlyphs">Temperature(˚C)</text>
<path d="M109.8,1187.4 C120.1,1184.8 150.9,1176.7 171.5,1171.4 C192.1,1166.1 212.7,1160.5 233.2,1155.4 C253.7,1150.2 274.1,1145.0 294.6,1140.3 C315.1,1135.7 335.5,1131.7 356.1,1127.3 C376.7,1123.0 397.6,1118.5 418.3,1114.3 C439.0,1110.1 459.6,1106.1 480.1,1102.3 C500.7,1098.4 531.4,1093.1 541.6,1091.2" stroke="#b8283a" stroke-width="2.2" fill="none" stroke-linecap="round" stroke-linejoin="round" />
<path d="M109.8,1219.5 C120.1,1216.7 150.9,1208.0 171.5,1202.5 C192.1,1197.0 212.7,1191.4 233.2,1186.4 C253.7,1181.4 274.1,1176.9 294.6,1172.4 C315.1,1167.9 335.5,1163.7 356.1,1159.4 C376.7,1155.0 397.6,1150.4 418.3,1146.4 C439.0,1142.3 459.6,1138.8 480.1,1135.3 C500.7,1131.8 531.4,1127.0 541.6,1125.3" stroke="#b8283a" stroke-width="2.2" fill="none" stroke-linecap="round" stroke-linejoin="round" />
<path d="M109.8,1286.6 C120.1,1283.8 150.9,1275.3 171.5,1269.6 C192.1,1263.9 212.7,1257.7 233.2,1252.6 C253.7,1247.4 274.1,1243.0 294.6,1238.5 C315.1,1234.0 335.5,1229.7 356.1,1225.5 C376.7,1221.3 397.6,1217.3 418.3,1213.5 C439.0,1209.6 459.6,1206.0 480.1,1202.5 C500.7,1199.0 531.4,1194.1 541.6,1192.4" stroke="#b8283a" stroke-width="2.2" fill="none" stroke-linecap="round" stroke-linejoin="round" />
<path d="M109.8,1313.7 C120.1,1310.2 150.9,1299.0 171.5,1292.6 C192.1,1286.3 212.7,1281.5 233.2,1275.6 C253.7,1269.8 274.1,1263.1 294.6,1257.6 C315.1,1252.1 335.5,1247.1 356.1,1242.5 C376.7,1238.0 397.6,1234.2 418.3,1230.5 C439.0,1226.8 459.6,1223.3 480.1,1220.5 C500.7,1217.7 531.4,1214.7 541.6,1213.5" stroke="#b8283a" stroke-width="2.2" fill="none" stroke-linecap="round" stroke-linejoin="round" />
<path d="M140.9,1319.7 C146.0,1318.0 156.1,1314.0 171.5,1309.7 C186.9,1305.3 212.7,1299.0 233.2,1293.6 C253.7,1288.3 274.1,1282.6 294.6,1277.6 C315.1,1272.6 335.5,1267.9 356.1,1263.6 C376.7,1259.2 397.6,1255.4 418.3,1251.6 C439.0,1247.7 459.6,1243.7 480.1,1240.5 C500.7,1237.4 531.4,1233.9 541.6,1232.5" stroke="#b8283a" stroke-width="2" fill="none" stroke-linecap="round" stroke-linejoin="round" stroke-dasharray="5,3"/>
<text x="297.0" y="1135.0" font-size="11" text-anchor="start" fill="#333" transform="rotate(-13 297 1135)">0.1CA</text>
<text x="301.0" y="1164.6" font-size="11" text-anchor="start" fill="#333" transform="rotate(-13 301 1164.6)">0.2CA</text>
<text x="303.0" y="1232.5" font-size="11" text-anchor="start" fill="#333" transform="rotate(-13 303 1232.5)">1.0CA</text>
<text x="303.0" y="1251.7" font-size="11" text-anchor="start" fill="#333" transform="rotate(-13 303 1251.7)">2.0CA</text>
<text x="303.0" y="1272.6" font-size="11" text-anchor="start" fill="#333" transform="rotate(-13 303 1272.6)">3.0CA</text>
<line x1="60.4" y1="1364.8" x2="563.9" y2="1364.8" stroke="#e6e2b4" stroke-width="1" />
<line x1="632.0" y1="1364.5" x2="1135.6" y2="1364.5" stroke="#e6e2b4" stroke-width="1" />
<line x1="702.6" y1="1079.2" x2="702.6" y2="1319.8" stroke="#2a2a2a" stroke-width="1.3" />
<line x1="727.4" y1="1079.2" x2="727.4" y2="1319.8" stroke="#2a2a2a" stroke-width="1.3" />
<line x1="752.2" y1="1079.2" x2="752.2" y2="1319.8" stroke="#2a2a2a" stroke-width="1.3" />
<line x1="777.0" y1="1079.2" x2="777.0" y2="1319.8" stroke="#2a2a2a" stroke-width="1.3" />
<line x1="801.8" y1="1079.2" x2="801.8" y2="1319.8" stroke="#2a2a2a" stroke-width="1.3" />
<line x1="826.6" y1="1079.2" x2="826.6" y2="1319.8" stroke="#2a2a2a" stroke-width="1.3" />
<line x1="851.4" y1="1079.2" x2="851.4" y2="1319.8" stroke="#2a2a2a" stroke-width="1.3" />
<line x1="876.2" y1="1079.2" x2="876.2" y2="1319.8" stroke="#2a2a2a" stroke-width="1.3" />
<line x1="901.0" y1="1079.2" x2="901.0" y2="1319.8" stroke="#2a2a2a" stroke-width="1.3" />
<line x1="925.8" y1="1079.2" x2="925.8" y2="1319.8" stroke="#2a2a2a" stroke-width="1.3" />
<line x1="950.6" y1="1079.2" x2="950.6" y2="1319.8" stroke="#2a2a2a" stroke-width="1.3" />
<line x1="677.8" y1="1127.3" x2="975.4" y2="1127.3" stroke="#2a2a2a" stroke-width="1.3" />
<line x1="677.8" y1="1175.4" x2="975.4" y2="1175.4" stroke="#2a2a2a" stroke-width="1.3" />
<line x1="677.8" y1="1223.6" x2="975.4" y2="1223.6" stroke="#2a2a2a" stroke-width="1.3" />
<line x1="677.8" y1="1271.7" x2="975.4" y2="1271.7" stroke="#2a2a2a" stroke-width="1.3" />
<rect x="677.8" y="1079.2" width="297.6" height="240.6" fill="none" stroke="#2a2a2a" stroke-width="1.4"/>
<text x="673.6" y="1082.5" font-size="9.5" text-anchor="end" fill="#333" >100</text>
<text x="673.6" y="1130.6" font-size="9.5" text-anchor="end" fill="#333" >80</text>
<text x="673.6" y="1178.7" font-size="9.5" text-anchor="end" fill="#333" >60</text>
<text x="673.6" y="1226.9" font-size="9.5" text-anchor="end" fill="#333" >40</text>
<text x="673.6" y="1275.0" font-size="9.5" text-anchor="end" fill="#333" >20</text>
<text x="673.6" y="1323.1" font-size="9.5" text-anchor="end" fill="#333" >0</text>
<text x="677.8" y="1334.0" font-size="9.5" text-anchor="middle" fill="#333" >0</text>
<text x="702.6" y="1334.0" font-size="9.5" text-anchor="middle" fill="#333" >2</text>
<text x="727.4" y="1334.0" font-size="9.5" text-anchor="middle" fill="#333" >4</text>
<text x="752.2" y="1334.0" font-size="9.5" text-anchor="middle" fill="#333" >6</text>
<text x="777.0" y="1334.0" font-size="9.5" text-anchor="middle" fill="#333" >8</text>
<text x="801.8" y="1334.0" font-size="9.5" text-anchor="middle" fill="#333" >10</text>
<text x="826.6" y="1334.0" font-size="9.5" text-anchor="middle" fill="#333" >12</text>
<text x="851.4" y="1334.0" font-size="9.5" text-anchor="middle" fill="#333" >14</text>
<text x="876.2" y="1334.0" font-size="9.5" text-anchor="middle" fill="#333" >16</text>
<text x="901.0" y="1334.0" font-size="9.5" text-anchor="middle" fill="#333" >18</text>
<text x="925.8" y="1334.0" font-size="9.5" text-anchor="middle" fill="#333" >20</text>
<text x="950.6" y="1334.0" font-size="9.5" text-anchor="middle" fill="#333" >22</text>
<text x="975.4" y="1334.0" font-size="9.5" text-anchor="middle" fill="#333" >24</text>
<text x="0" y="0" font-size="14" text-anchor="middle" fill="#333" textLength="94.1" lengthAdjust="spacingAndGlyphs" transform="translate(658.0,1196.0) rotate(-90)">Capacity  (%)</text>
<text x="752.0" y="1354.0" font-size="14" fill="#333" textLength="149.8" lengthAdjust="spacingAndGlyphs">Storage  Time(months)</text>
<path d="M677.8,1079.2 C679.9,1085.6 686.1,1105.5 690.2,1117.7 C694.3,1129.9 698.5,1142.4 702.6,1152.6 C706.7,1162.8 710.9,1171.4 715.0,1179.0 C719.1,1186.7 723.3,1193.3 727.4,1198.3 C731.5,1203.3 735.7,1206.1 739.8,1209.1 C743.9,1212.1 746.0,1213.9 752.2,1216.3 C758.4,1218.7 772.9,1222.4 777.0,1223.6" stroke="#b8283a" stroke-width="2.2" fill="none" stroke-linecap="round" stroke-linejoin="round" />
<path d="M677.8,1079.2 C681.9,1086.8 694.3,1111.9 702.6,1124.9 C710.9,1137.9 719.1,1147.8 727.4,1157.4 C735.7,1167.0 743.9,1175.0 752.2,1182.7 C760.5,1190.3 768.7,1197.7 777.0,1203.1 C785.3,1208.5 793.5,1211.7 801.8,1215.1 C810.1,1218.5 822.5,1222.2 826.6,1223.6" stroke="#b8283a" stroke-width="2.2" fill="none" stroke-linecap="round" stroke-linejoin="round" />
<path d="M677.8,1079.2 C681.9,1084.2 694.3,1100.5 702.6,1109.3 C710.9,1118.1 719.1,1125.3 727.4,1132.1 C735.7,1138.9 743.9,1144.6 752.2,1150.2 C760.5,1155.8 768.7,1161.0 777.0,1165.8 C785.3,1170.6 793.5,1175.0 801.8,1179.0 C810.1,1183.1 818.3,1186.7 826.6,1189.9 C834.9,1193.1 841.1,1195.5 851.4,1198.3 C861.7,1201.1 882.4,1205.3 888.6,1206.7" stroke="#b8283a" stroke-width="2.2" fill="none" stroke-linecap="round" stroke-linejoin="round" />
<path d="M677.8,1079.2 C686.1,1084.0 710.9,1099.5 727.4,1108.1 C743.9,1116.7 760.5,1124.3 777.0,1130.9 C793.5,1137.5 810.1,1142.8 826.6,1147.8 C843.1,1152.8 859.7,1157.4 876.2,1161.0 C892.7,1164.6 909.3,1167.0 925.8,1169.4 C942.3,1171.8 967.1,1174.4 975.4,1175.4" stroke="#b8283a" stroke-width="2.2" fill="none" stroke-linecap="round" stroke-linejoin="round" />
<path d="M677.8,1079.2 C686.1,1082.0 710.9,1091.4 727.4,1096.0 C743.9,1100.7 760.5,1103.9 777.0,1106.9 C793.5,1109.9 810.1,1112.0 826.6,1114.1 C843.1,1116.2 859.7,1117.9 876.2,1119.4 C892.7,1120.9 909.3,1122.1 925.8,1123.0 C942.3,1123.9 967.1,1124.6 975.4,1124.9" stroke="#b8283a" stroke-width="2.2" fill="none" stroke-linecap="round" stroke-linejoin="round" />
<text x="771.0" y="1237.0" font-size="11.5" text-anchor="middle" fill="#333" >40℃</text>
<text x="821.0" y="1237.0" font-size="11.5" text-anchor="middle" fill="#333" >30℃</text>
<text x="879.0" y="1218.0" font-size="11.5" text-anchor="middle" fill="#333" >20℃</text>
<text x="973.0" y="1121.5" font-size="11.5" text-anchor="end" fill="#333" >0℃</text>
<text x="975.0" y="1189.0" font-size="11.5" text-anchor="end" fill="#333" >10℃</text>
<path d="M976.8,1078.8 L1126,1078.8" stroke="#d9c870" stroke-width="1.3" fill="none" stroke-linecap="round" stroke-linejoin="round" />
<path d="M975.7,1125.9 L987.6,1153 L1126,1153" stroke="#d9c870" stroke-width="1.3" fill="none" stroke-linecap="round" stroke-linejoin="round" />
<path d="M975.7,1175 L987.6,1228.3 L1126,1228.3" stroke="#d9c870" stroke-width="1.3" fill="none" stroke-linecap="round" stroke-linejoin="round" />
<path d="M976,1319.1 L998.5,1319.1" stroke="#d9c870" stroke-width="1.3" fill="none" stroke-linecap="round" stroke-linejoin="round" stroke-dasharray="4,4"/>
<path d="M998.5,1319.1 L1126,1319.1" stroke="#d9c870" stroke-width="1.3" fill="none" stroke-linecap="round" stroke-linejoin="round" />
<text x="1006.8" y="1105.3" font-size="8.6" text-anchor="start" fill="#444" font-style="italic" transform="translate(1006.8 0) scale(0.86 1) translate(-1006.8 0)">Supplementary charge required</text>
<text x="1006.8" y="1115.8" font-size="8.6" text-anchor="start" fill="#444" font-style="italic" transform="translate(1006.8 0) scale(0.86 1) translate(-1006.8 0)">(Carry out supplementary charge</text>
<text x="1006.8" y="1126.3" font-size="8.6" text-anchor="start" fill="#444" font-style="italic" transform="translate(1006.8 0) scale(0.86 1) translate(-1006.8 0)">before use if 100% capacity is</text>
<text x="1006.8" y="1136.8" font-size="8.6" text-anchor="start" fill="#444" font-style="italic" transform="translate(1006.8 0) scale(0.86 1) translate(-1006.8 0)">requires)</text>
<text x="1006.8" y="1172.3" font-size="8.6" text-anchor="start" fill="#444" font-style="italic" transform="translate(1006.8 0) scale(0.86 1) translate(-1006.8 0)">Supplementary charge required</text>
<text x="1006.8" y="1182.8" font-size="8.6" text-anchor="start" fill="#444" font-style="italic" transform="translate(1006.8 0) scale(0.86 1) translate(-1006.8 0)">before use.</text>
<text x="1006.8" y="1193.3" font-size="8.6" text-anchor="start" fill="#444" font-style="italic" transform="translate(1006.8 0) scale(0.86 1) translate(-1006.8 0)">This supplementary charge will help</text>
<text x="1006.8" y="1203.8" font-size="8.6" text-anchor="start" fill="#444" font-style="italic" transform="translate(1006.8 0) scale(0.86 1) translate(-1006.8 0)">to recover the capacity and should</text>
<text x="1006.8" y="1214.3" font-size="8.6" text-anchor="start" fill="#444" font-style="italic" transform="translate(1006.8 0) scale(0.86 1) translate(-1006.8 0)">be made  as early as possible.</text>
<text x="1006.8" y="1248.3" font-size="8.6" text-anchor="start" fill="#444" font-style="italic" transform="translate(1006.8 0) scale(0.86 1) translate(-1006.8 0)">Supplementary charge may often</text>
<text x="1006.8" y="1258.8" font-size="8.6" text-anchor="start" fill="#444" font-style="italic" transform="translate(1006.8 0) scale(0.86 1) translate(-1006.8 0)">fail to recover the capacity.</text>
<text x="1006.8" y="1269.3" font-size="8.6" text-anchor="start" fill="#444" font-style="italic" transform="translate(1006.8 0) scale(0.86 1) translate(-1006.8 0)">The battery should never be left</text>
<text x="1006.8" y="1279.8" font-size="8.6" text-anchor="start" fill="#444" font-style="italic" transform="translate(1006.8 0) scale(0.86 1) translate(-1006.8 0)">standing till this state is reached</text>
<text x="1006.8" y="1329.0" font-size="8.6" text-anchor="start" fill="#444" font-style="italic" transform="translate(1006.8 0) scale(0.86 1) translate(-1006.8 0)">Supplementary charge and storage</text>
<text x="1006.8" y="1339.5" font-size="8.6" text-anchor="start" fill="#444" font-style="italic" transform="translate(1006.8 0) scale(0.86 1) translate(-1006.8 0)">guidelines</text>
<line x1="195.9" y1="1456.1" x2="195.9" y2="1693.9" stroke="#555" stroke-width="1" />
<line x1="281.7" y1="1456.1" x2="281.7" y2="1693.9" stroke="#555" stroke-width="1" />
<line x1="367.7" y1="1456.1" x2="367.7" y2="1693.9" stroke="#555" stroke-width="1" />
<line x1="453.5" y1="1456.1" x2="453.5" y2="1693.9" stroke="#555" stroke-width="1" />
<line x1="110.5" y1="1503.9" x2="538.9" y2="1503.9" stroke="#555" stroke-width="1" />
<line x1="110.5" y1="1551.3" x2="538.9" y2="1551.3" stroke="#555" stroke-width="1" />
<line x1="110.5" y1="1599.0" x2="538.9" y2="1599.0" stroke="#555" stroke-width="1" />
<line x1="110.5" y1="1646.1" x2="538.9" y2="1646.1" stroke="#555" stroke-width="1" />
<rect x="110.5" y="1456.1" width="428.4" height="237.8" fill="none" stroke="#555" stroke-width="1.2"/>
<text x="106.0" y="1459.6" font-size="10" text-anchor="end" fill="#333" >20</text>
<text x="106.0" y="1507.4" font-size="10" text-anchor="end" fill="#333" >16</text>
<text x="106.0" y="1554.8" font-size="10" text-anchor="end" fill="#333" >12</text>
<text x="106.0" y="1602.5" font-size="10" text-anchor="end" fill="#333" >8</text>
<text x="106.0" y="1649.6" font-size="10" text-anchor="end" fill="#333" >4</text>
<text x="106.0" y="1697.4" font-size="10" text-anchor="end" fill="#333" >0</text>
<text x="110.5" y="1709.5" font-size="10" text-anchor="middle" fill="#333" >0</text>
<text x="195.9" y="1709.5" font-size="10" text-anchor="middle" fill="#333" >10</text>
<text x="281.7" y="1709.5" font-size="10" text-anchor="middle" fill="#333" >20</text>
<text x="367.7" y="1709.5" font-size="10" text-anchor="middle" fill="#333" >30</text>
<text x="453.5" y="1709.5" font-size="10" text-anchor="middle" fill="#333" >40</text>
<text x="538.9" y="1709.5" font-size="10" text-anchor="middle" fill="#333" >50</text>
<text x="0" y="0" font-size="14" text-anchor="middle" fill="#333" textLength="162.1" lengthAdjust="spacingAndGlyphs" transform="translate(85.2,1573.8) rotate(-90)">Lift  Expectancy  (years)</text>
<text x="273.3" y="1726.0" font-size="13.5" fill="#333" textLength="106.3" lengthAdjust="spacingAndGlyphs">Temperature(˚C)</text>
<path d="M195.9,1503.9 C197.7,1504.0 202.9,1503.9 206.4,1504.2 C209.9,1504.5 213.3,1505.3 216.8,1506.0 C220.3,1506.7 223.5,1507.4 227.3,1508.4 C231.1,1509.4 235.7,1510.7 239.5,1511.9 C243.3,1513.1 246.5,1514.2 250.0,1515.4 C253.5,1516.6 256.9,1517.6 260.4,1518.9 C263.9,1520.2 267.3,1521.8 270.9,1523.4 C274.4,1525.0 277.9,1526.4 281.7,1528.3 C285.5,1530.2 289.8,1532.5 293.5,1534.6 C297.2,1536.7 300.2,1538.6 304.0,1540.8 C307.8,1543.0 310.8,1544.8 316.2,1547.8 C321.6,1550.8 327.6,1553.7 336.2,1558.5 C344.8,1563.3 358.6,1571.5 367.7,1576.6 C376.8,1581.7 383.1,1585.3 390.5,1589.2 C397.9,1593.1 405.0,1596.2 412.2,1600.1 C419.4,1604.0 427.0,1608.9 433.9,1612.8 C440.8,1616.7 448.1,1620.6 453.5,1623.6 C458.9,1626.6 461.9,1628.8 466.5,1630.9 C471.1,1633.0 475.9,1635.1 481.0,1636.3 C486.1,1637.5 494.5,1637.8 497.2,1638.1" stroke="#c86470" stroke-width="1.1" fill="none" stroke-linecap="round" stroke-linejoin="round" />
<path d="M195.9,1539.1 C197.7,1539.4 202.9,1540.1 206.4,1540.8 C209.9,1541.5 213.3,1542.4 216.8,1543.3 C220.3,1544.2 223.5,1544.9 227.3,1546.1 C231.1,1547.2 235.7,1548.9 239.5,1550.2 C243.3,1551.5 246.5,1552.5 250.0,1553.7 C253.5,1554.9 256.9,1555.9 260.4,1557.2 C263.9,1558.5 267.3,1560.3 270.9,1561.8 C274.4,1563.3 277.9,1564.2 281.7,1566.0 C285.5,1567.8 289.8,1570.9 293.5,1572.9 C297.2,1574.9 300.2,1576.1 304.0,1578.1 C307.8,1580.1 310.8,1582.0 316.2,1585.1 C321.6,1588.2 327.6,1591.6 336.2,1596.5 C344.8,1601.4 358.6,1609.3 367.7,1614.6 C376.8,1619.9 383.1,1624.1 390.5,1628.3 C397.9,1632.5 405.0,1636.2 412.2,1639.9 C419.4,1643.7 427.0,1647.2 433.9,1650.8 C440.8,1654.4 448.1,1658.9 453.5,1661.6 C458.9,1664.3 461.9,1665.9 466.5,1667.1 C471.1,1668.3 475.9,1668.6 481.0,1668.9 C486.1,1669.2 494.5,1668.9 497.2,1668.9" stroke="#c86470" stroke-width="1.1" fill="none" stroke-linecap="round" stroke-linejoin="round" />
<line x1="195.9" y1="1503.9" x2="195.9" y2="1539.1" stroke="#c86470" stroke-width="1" />
<line x1="206.8" y1="1504.3" x2="206.8" y2="1540.9" stroke="#c86470" stroke-width="1" />
<line x1="217.6" y1="1506.2" x2="217.6" y2="1543.5" stroke="#c86470" stroke-width="1" />
<line x1="228.4" y1="1508.7" x2="228.4" y2="1546.5" stroke="#c86470" stroke-width="1" />
<line x1="239.3" y1="1511.8" x2="239.3" y2="1550.1" stroke="#c86470" stroke-width="1" />
<line x1="250.1" y1="1515.5" x2="250.1" y2="1553.8" stroke="#c86470" stroke-width="1" />
<line x1="261.0" y1="1519.2" x2="261.0" y2="1557.5" stroke="#c86470" stroke-width="1" />
<line x1="271.9" y1="1523.8" x2="271.9" y2="1562.2" stroke="#c86470" stroke-width="1" />
<line x1="282.7" y1="1528.8" x2="282.7" y2="1566.6" stroke="#c86470" stroke-width="1" />
<line x1="293.6" y1="1534.6" x2="293.6" y2="1572.9" stroke="#c86470" stroke-width="1" />
<line x1="304.4" y1="1541.0" x2="304.4" y2="1578.3" stroke="#c86470" stroke-width="1" />
<line x1="315.3" y1="1547.3" x2="315.3" y2="1584.6" stroke="#c86470" stroke-width="1" />
<line x1="326.1" y1="1553.1" x2="326.1" y2="1590.7" stroke="#c86470" stroke-width="1" />
<line x1="337.0" y1="1558.9" x2="337.0" y2="1596.9" stroke="#c86470" stroke-width="1" />
<line x1="347.8" y1="1565.2" x2="347.8" y2="1603.2" stroke="#c86470" stroke-width="1" />
<line x1="358.7" y1="1571.4" x2="358.7" y2="1609.4" stroke="#c86470" stroke-width="1" />
<line x1="369.5" y1="1577.6" x2="369.5" y2="1615.7" stroke="#c86470" stroke-width="1" />
<line x1="380.4" y1="1583.6" x2="380.4" y2="1622.2" stroke="#c86470" stroke-width="1" />
<line x1="391.2" y1="1589.6" x2="391.2" y2="1628.7" stroke="#c86470" stroke-width="1" />
<line x1="402.1" y1="1595.0" x2="402.1" y2="1634.5" stroke="#c86470" stroke-width="1" />
<line x1="412.9" y1="1600.5" x2="412.9" y2="1640.3" stroke="#c86470" stroke-width="1" />
<line x1="423.8" y1="1606.9" x2="423.8" y2="1645.7" stroke="#c86470" stroke-width="1" />
<line x1="434.6" y1="1613.2" x2="434.6" y2="1651.2" stroke="#c86470" stroke-width="1" />
<line x1="445.5" y1="1619.2" x2="445.5" y2="1657.2" stroke="#c86470" stroke-width="1" />
<line x1="456.3" y1="1625.2" x2="456.3" y2="1662.8" stroke="#c86470" stroke-width="1" />
<line x1="467.2" y1="1631.1" x2="467.2" y2="1667.2" stroke="#c86470" stroke-width="1" />
<line x1="478.0" y1="1635.2" x2="478.0" y2="1668.5" stroke="#c86470" stroke-width="1" />
<line x1="488.9" y1="1637.2" x2="488.9" y2="1668.9" stroke="#c86470" stroke-width="1" />
<line x1="497.2" y1="1638.1" x2="497.2" y2="1668.9" stroke="#c86470" stroke-width="1.1" />
<defs><linearGradient id="g3" x1="705" y1="0" x2="1109" y2="0" gradientUnits="userSpaceOnUse"><stop offset="0" stop-color="#e8262a"/><stop offset="0.35" stop-color="#f07a22"/><stop offset="0.65" stop-color="#f6a31c"/><stop offset="1" stop-color="#fce500"/></linearGradient><linearGradient id="g4r" x1="727" y1="0" x2="1116" y2="0" gradientUnits="userSpaceOnUse"><stop offset="0" stop-color="#e82424"/><stop offset="0.5" stop-color="#f58a70"/><stop offset="1" stop-color="#fde4dc"/></linearGradient><linearGradient id="g4p" x1="698" y1="0" x2="1116" y2="0" gradientUnits="userSpaceOnUse"><stop offset="0" stop-color="#a23c8e"/><stop offset="0.5" stop-color="#cc8cc0"/><stop offset="1" stop-color="#f8eaf4"/></linearGradient><linearGradient id="g5r" x1="0" y1="0" x2="1" y2="0"><stop offset="0" stop-color="#f47a6a"/><stop offset="1" stop-color="#fde0da"/></linearGradient><linearGradient id="g5g" x1="0" y1="0" x2="1" y2="0"><stop offset="0" stop-color="#5aa878"/><stop offset="1" stop-color="#e4f2e8"/></linearGradient><linearGradient id="g5p" x1="0" y1="0" x2="1" y2="0"><stop offset="0" stop-color="#b868b0"/><stop offset="1" stop-color="#f6e6f4"/></linearGradient></defs>
<line x1="772.3" y1="1467.3" x2="772.3" y2="1694.0" stroke="#2a2a2a" stroke-width="1.4" />
<line x1="839.6" y1="1467.3" x2="839.6" y2="1694.0" stroke="#2a2a2a" stroke-width="1.4" />
<line x1="906.9" y1="1467.3" x2="906.9" y2="1694.0" stroke="#2a2a2a" stroke-width="1.4" />
<line x1="974.2" y1="1467.3" x2="974.2" y2="1694.0" stroke="#2a2a2a" stroke-width="1.4" />
<line x1="1041.5" y1="1467.3" x2="1041.5" y2="1694.0" stroke="#2a2a2a" stroke-width="1.4" />
<line x1="705.0" y1="1505.1" x2="1108.8" y2="1505.1" stroke="#2a2a2a" stroke-width="1.4" />
<line x1="705.0" y1="1542.9" x2="1108.8" y2="1542.9" stroke="#2a2a2a" stroke-width="1.4" />
<line x1="705.0" y1="1580.6" x2="1108.8" y2="1580.6" stroke="#2a2a2a" stroke-width="1.4" />
<line x1="705.0" y1="1618.2" x2="1108.8" y2="1618.2" stroke="#2a2a2a" stroke-width="1.4" />
<line x1="705.0" y1="1656.4" x2="1108.8" y2="1656.4" stroke="#2a2a2a" stroke-width="1.4" />
<rect x="705.0" y="1467.3" width="403.8" height="226.7" fill="none" stroke="#2a2a2a" stroke-width="1.5"/>
<path d="M705.0,1504.3 C716.2,1504.6 749.9,1505.2 772.3,1505.9 C794.7,1506.5 817.2,1507.1 839.6,1508.3 C862.0,1509.5 884.5,1511.2 906.9,1513.0 C929.3,1514.8 951.8,1516.8 974.2,1519.1 C996.6,1521.4 1019.1,1523.1 1041.5,1526.8 C1063.9,1530.5 1097.6,1538.8 1108.8,1541.2 L1108.8,1609.0 C1097.6,1603.8 1063.9,1586.6 1041.5,1577.8 C1019.1,1569.0 996.6,1562.2 974.2,1556.1 C951.8,1550.0 929.3,1545.3 906.9,1541.0 C884.5,1536.7 862.0,1533.5 839.6,1530.4 C817.2,1527.3 794.7,1525.0 772.3,1522.5 C749.9,1520.0 716.2,1516.7 705.0,1515.5 Z" fill="url(#g3)"/>
<line x1="701.0" y1="1467.3" x2="705.0" y2="1467.3" stroke="#333" stroke-width="1.2" />
<text x="701.5" y="1470.8" font-size="10" text-anchor="end" fill="#333" >120</text>
<text x="701.5" y="1508.6" font-size="10" text-anchor="end" fill="#333" >100</text>
<text x="701.5" y="1546.4" font-size="10" text-anchor="end" fill="#333" >80</text>
<text x="701.5" y="1584.1" font-size="10" text-anchor="end" fill="#333" >60</text>
<text x="701.5" y="1621.7" font-size="10" text-anchor="end" fill="#333" >40</text>
<text x="701.5" y="1659.9" font-size="10" text-anchor="end" fill="#333" >20</text>
<text x="701.5" y="1697.5" font-size="10" text-anchor="end" fill="#333" >0</text>
<text x="705.0" y="1706.0" font-size="10" text-anchor="middle" fill="#333" >0</text>
<text x="772.3" y="1706.0" font-size="10" text-anchor="middle" fill="#333" >2</text>
<text x="839.6" y="1706.0" font-size="10" text-anchor="middle" fill="#333" >4</text>
<text x="906.9" y="1706.0" font-size="10" text-anchor="middle" fill="#333" >6</text>
<text x="974.2" y="1706.0" font-size="10" text-anchor="middle" fill="#333" >8</text>
<text x="1041.5" y="1706.0" font-size="10" text-anchor="middle" fill="#333" >10</text>
<text x="1108.8" y="1706.0" font-size="10" text-anchor="middle" fill="#333" >12</text>
<text x="0" y="0" font-size="14" text-anchor="middle" fill="#333" textLength="80.4" lengthAdjust="spacingAndGlyphs" transform="translate(675.3,1597.2) rotate(-90)">Capacity(%)</text>
<text x="674.6" y="1456.0" font-size="13" fill="#333" textLength="202.9" lengthAdjust="spacingAndGlyphs">Testing conditions: float charging</text>
<text x="962.3" y="1459.0" font-size="13" fill="#333" textLength="149.5" lengthAdjust="spacingAndGlyphs">Temperature: 25℃(77℉)</text>
<text x="808.5" y="1724.5" font-size="14" fill="#333" textLength="153.1" lengthAdjust="spacingAndGlyphs">Life expectancy (years)</text>
<line x1="195.7" y1="1819.5" x2="195.7" y2="2042.0" stroke="#333" stroke-width="1.1" />
<line x1="249.7" y1="1819.5" x2="249.7" y2="2042.0" stroke="#333" stroke-width="1.1" />
<line x1="304.5" y1="1819.5" x2="304.5" y2="2042.0" stroke="#333" stroke-width="1.1" />
<line x1="359.0" y1="1819.5" x2="359.0" y2="2042.0" stroke="#333" stroke-width="1.1" />
<line x1="413.3" y1="1819.5" x2="413.3" y2="2042.0" stroke="#333" stroke-width="1.1" />
<line x1="467.6" y1="1819.5" x2="467.6" y2="2042.0" stroke="#333" stroke-width="1.1" />
<line x1="141.0" y1="1856.4" x2="521.9" y2="1856.4" stroke="#333" stroke-width="1.1" />
<line x1="141.0" y1="1893.5" x2="521.9" y2="1893.5" stroke="#333" stroke-width="1.1" />
<line x1="141.0" y1="1930.6" x2="521.9" y2="1930.6" stroke="#333" stroke-width="1.1" />
<line x1="141.0" y1="1967.7" x2="521.9" y2="1967.7" stroke="#333" stroke-width="1.1" />
<line x1="141.0" y1="2004.8" x2="521.9" y2="2004.8" stroke="#333" stroke-width="1.1" />
<rect x="141" y="1819.5" width="380.9" height="222.5" fill="none" stroke="#333" stroke-width="1.3"/>
<text x="134.7" y="1822.8" font-size="9.5" text-anchor="end" fill="#333" >120</text>
<text x="134.7" y="1859.7" font-size="9.5" text-anchor="end" fill="#333" >100</text>
<text x="134.7" y="1896.8" font-size="9.5" text-anchor="end" fill="#333" >80</text>
<text x="134.7" y="1933.9" font-size="9.5" text-anchor="end" fill="#333" >60</text>
<text x="134.7" y="1971.0" font-size="9.5" text-anchor="end" fill="#333" >40</text>
<text x="134.7" y="2008.1" font-size="9.5" text-anchor="end" fill="#333" >20</text>
<text x="134.7" y="2045.3" font-size="9.5" text-anchor="end" fill="#333" >0</text>
<text x="195.7" y="2056.0" font-size="9.5" text-anchor="middle" fill="#333" >200</text>
<text x="249.7" y="2056.0" font-size="9.5" text-anchor="middle" fill="#333" >400</text>
<text x="304.5" y="2056.0" font-size="9.5" text-anchor="middle" fill="#333" >600</text>
<text x="359.0" y="2056.0" font-size="9.5" text-anchor="middle" fill="#333" >800</text>
<text x="413.3" y="2056.0" font-size="9.5" text-anchor="middle" fill="#333" >1000</text>
<text x="467.6" y="2056.0" font-size="9.5" text-anchor="middle" fill="#333" >1200</text>
<text x="521.9" y="2056.0" font-size="9.5" text-anchor="middle" fill="#333" >1400</text>
<text x="0" y="0" font-size="14" text-anchor="middle" fill="#333" textLength="80.2" lengthAdjust="spacingAndGlyphs" transform="translate(115.6,1934.4) rotate(-90)">Capacity(%)</text>
<text x="262.0" y="2084.0" font-size="14" fill="#333" textLength="116.9" lengthAdjust="spacingAndGlyphs">Number of Cycles</text>
<path d="M141.0,1856.0 C144.0,1854.0 150.0,1846.8 159.1,1844.0 C168.2,1841.2 184.0,1840.0 195.3,1839.1 C206.6,1838.2 217.4,1838.2 226.7,1838.4 C235.9,1838.6 242.0,1839.2 250.8,1840.3 C259.7,1841.4 271.0,1843.4 279.8,1845.2 C288.6,1847.0 290.7,1847.8 303.9,1851.2 C317.1,1854.6 340.8,1860.2 359.0,1865.6 C377.2,1871.0 395.2,1877.1 413.3,1883.7 C431.4,1890.3 449.5,1897.2 467.6,1905.0 C485.7,1912.8 512.9,1926.4 521.9,1930.7 L467.6,1930.7 C458.6,1925.0 431.4,1906.4 413.3,1896.3 C395.2,1886.2 377.2,1877.1 359.0,1870.0 C340.8,1862.9 317.1,1857.4 303.9,1853.5 C290.7,1849.6 288.6,1848.6 279.8,1846.5 C271.0,1844.4 259.7,1842.2 250.8,1841.0 C242.0,1839.8 235.9,1839.2 226.7,1839.0 C217.4,1838.8 206.6,1838.8 195.3,1839.7 C184.0,1840.6 168.2,1841.9 159.1,1844.6 C150.0,1847.3 144.0,1854.1 141.0,1856.0 Z" fill="url(#g5p)"/>
<path d="M141.0,1856.0 C144.0,1854.0 150.0,1846.8 159.1,1844.0 C168.2,1841.2 184.0,1840.0 195.3,1839.1 C206.6,1838.2 217.4,1838.2 226.7,1838.4 C235.9,1838.6 242.0,1839.2 250.8,1840.3 C259.7,1841.4 271.0,1843.4 279.8,1845.2 C288.6,1847.0 290.7,1847.8 303.9,1851.2 C317.1,1854.6 340.8,1860.2 359.0,1865.6 C377.2,1871.0 395.2,1877.1 413.3,1883.7 C431.4,1890.3 449.5,1897.2 467.6,1905.0 C485.7,1912.8 512.9,1926.4 521.9,1930.7" stroke="#9a3a8a" stroke-width="1.3" fill="none" stroke-linecap="round" stroke-linejoin="round" />
<path d="M141.0,1856.0 C144.0,1854.1 150.0,1847.3 159.1,1844.6 C168.2,1841.9 184.0,1840.6 195.3,1839.7 C206.6,1838.8 217.4,1838.8 226.7,1839.0 C235.9,1839.2 242.0,1839.8 250.8,1841.0 C259.7,1842.2 271.0,1844.4 279.8,1846.5 C288.6,1848.6 290.7,1849.6 303.9,1853.5 C317.1,1857.4 340.8,1862.9 359.0,1870.0 C377.2,1877.1 395.2,1886.2 413.3,1896.3 C431.4,1906.4 458.6,1925.0 467.6,1930.7" stroke="#9a3a8a" stroke-width="1.3" fill="none" stroke-linecap="round" stroke-linejoin="round" />
<line x1="467.6" y1="1930.7" x2="521.9" y2="1930.7" stroke="#9a3a8a" stroke-width="1.2" />
<path d="M190.5,1837.9 C193.3,1839.7 201.4,1844.2 207.4,1848.8 C213.4,1853.4 220.7,1859.7 226.7,1865.7 C232.7,1871.7 238.0,1878.6 243.6,1885.0 C249.2,1891.4 255.3,1898.7 260.5,1904.3 C265.7,1909.9 270.2,1914.5 275.0,1918.8 C279.8,1923.1 287.0,1928.4 289.4,1930.3 L265.3,1930.3 C262.8,1927.6 254.9,1919.9 250.0,1913.9 C245.1,1908.0 240.7,1901.6 236.0,1894.6 C231.3,1887.6 226.3,1878.4 222.0,1872.0 C217.7,1865.6 213.7,1860.5 210.0,1856.0 C206.3,1851.5 203.7,1848.0 200.0,1845.0 C196.3,1842.0 190.0,1839.2 188.0,1838.0 Z" fill="url(#g5g)"/>
<path d="M141.0,1856.0 C142.4,1853.6 146.3,1844.7 149.5,1841.5 C152.7,1838.3 156.0,1838.0 160.0,1837.0 C164.0,1836.0 168.5,1835.3 173.6,1835.5 C178.7,1835.7 184.9,1835.7 190.5,1837.9 C196.1,1840.1 201.4,1844.2 207.4,1848.8 C213.4,1853.4 220.7,1859.7 226.7,1865.7 C232.7,1871.7 238.0,1878.6 243.6,1885.0 C249.2,1891.4 255.3,1898.7 260.5,1904.3 C265.7,1909.9 270.2,1914.5 275.0,1918.8 C279.8,1923.1 287.0,1928.4 289.4,1930.3" stroke="#2e8a5a" stroke-width="1.3" fill="none" stroke-linecap="round" stroke-linejoin="round" />
<path d="M188.0,1838.0 C190.0,1839.2 196.3,1842.0 200.0,1845.0 C203.7,1848.0 206.3,1851.5 210.0,1856.0 C213.7,1860.5 217.7,1865.6 222.0,1872.0 C226.3,1878.4 231.3,1887.6 236.0,1894.6 C240.7,1901.6 245.1,1908.0 250.0,1913.9 C254.9,1919.9 262.8,1927.6 265.3,1930.3" stroke="#2e8a5a" stroke-width="1.3" fill="none" stroke-linecap="round" stroke-linejoin="round" />
<path d="M160.0,1835.0 C161.1,1835.7 163.9,1836.4 166.4,1839.1 C168.9,1841.8 172.0,1846.4 174.8,1851.2 C177.6,1856.0 180.3,1862.1 183.3,1868.1 C186.3,1874.1 189.3,1880.6 192.9,1887.4 C196.5,1894.2 200.6,1901.9 205.0,1909.1 C209.4,1916.2 217.1,1926.8 219.5,1930.3 L201.4,1930.3 C199.4,1926.0 193.2,1913.1 189.5,1904.3 C185.8,1895.5 182.1,1885.8 179.0,1877.7 C175.9,1869.7 173.3,1861.8 171.0,1856.0 C168.7,1850.2 167.0,1846.4 165.0,1843.0 C163.0,1839.6 160.0,1836.8 159.0,1835.5 Z" fill="url(#g5r)"/>
<path d="M141.0,1856.0 C141.6,1853.6 142.7,1845.1 144.7,1841.5 C146.7,1837.9 150.5,1835.4 153.1,1834.3 C155.7,1833.2 157.8,1834.2 160.0,1835.0 C162.2,1835.8 163.9,1836.4 166.4,1839.1 C168.9,1841.8 172.0,1846.4 174.8,1851.2 C177.6,1856.0 180.3,1862.1 183.3,1868.1 C186.3,1874.1 189.3,1880.6 192.9,1887.4 C196.5,1894.2 200.6,1901.9 205.0,1909.1 C209.4,1916.2 217.1,1926.8 219.5,1930.3" stroke="#d03c3c" stroke-width="1.3" fill="none" stroke-linecap="round" stroke-linejoin="round" />
<path d="M159.0,1835.5 C160.0,1836.8 163.0,1839.6 165.0,1843.0 C167.0,1846.4 168.7,1850.2 171.0,1856.0 C173.3,1861.8 175.9,1869.7 179.0,1877.7 C182.1,1885.8 185.8,1895.5 189.5,1904.3 C193.2,1913.1 199.4,1926.0 201.4,1930.3" stroke="#d03c3c" stroke-width="1.3" fill="none" stroke-linecap="round" stroke-linejoin="round" />
<text x="200.2" y="1943.0" font-size="10" text-anchor="start" fill="#333" textLength="22" lengthAdjust="spacingAndGlyphs">100%</text>
<text x="200.2" y="1955.5" font-size="10" text-anchor="start" fill="#333" textLength="19" lengthAdjust="spacingAndGlyphs">DOD</text>
<text x="267.0" y="1943.0" font-size="10" text-anchor="start" fill="#333" textLength="17" lengthAdjust="spacingAndGlyphs">50%</text>
<text x="267.0" y="1955.5" font-size="10" text-anchor="start" fill="#333" textLength="19" lengthAdjust="spacingAndGlyphs">DOD</text>
<text x="487.5" y="1943.0" font-size="10" text-anchor="start" fill="#333" textLength="17" lengthAdjust="spacingAndGlyphs">30%</text>
<text x="487.5" y="1955.5" font-size="10" text-anchor="start" fill="#333" textLength="19" lengthAdjust="spacingAndGlyphs">DOD</text>
<line x1="757.5" y1="1812.4" x2="757.5" y2="2044.0" stroke="#444" stroke-width="1.1" />
<line x1="817.3" y1="1812.4" x2="817.3" y2="2044.0" stroke="#444" stroke-width="1.1" />
<line x1="877.1" y1="1812.4" x2="877.1" y2="2044.0" stroke="#444" stroke-width="1.1" />
<line x1="936.9" y1="1812.4" x2="936.9" y2="2044.0" stroke="#444" stroke-width="1.1" />
<line x1="996.7" y1="1812.4" x2="996.7" y2="2044.0" stroke="#444" stroke-width="1.1" />
<line x1="1056.5" y1="1812.4" x2="1056.5" y2="2044.0" stroke="#444" stroke-width="1.1" />
<line x1="697.7" y1="1858.8" x2="1115.5" y2="1858.8" stroke="#444" stroke-width="1.1" />
<line x1="697.7" y1="1905.3" x2="1115.5" y2="1905.3" stroke="#444" stroke-width="1.1" />
<line x1="697.7" y1="1951.3" x2="1115.5" y2="1951.3" stroke="#444" stroke-width="1.1" />
<line x1="697.7" y1="1997.4" x2="1115.5" y2="1997.4" stroke="#444" stroke-width="1.1" />
<rect x="697.7" y="1812.4" width="417.8" height="231.6" fill="none" stroke="#444" stroke-width="1.3"/>
<path d="M759.0,1812.4 C768.7,1817.5 797.3,1832.6 817.0,1842.8 C836.7,1853.0 857.1,1863.5 877.0,1873.5 C896.9,1883.5 916.6,1894.0 936.5,1903.0 C956.4,1912.0 976.5,1920.0 996.5,1927.5 C1016.5,1935.0 1036.4,1942.0 1056.2,1948.0 C1076.0,1954.0 1105.6,1961.1 1115.5,1963.7 L1115.5,1980.4 C1105.6,1978.2 1076.0,1972.5 1056.2,1967.3 C1036.4,1962.1 1016.5,1956.3 996.5,1949.5 C976.5,1942.7 956.4,1935.3 936.5,1926.4 C916.6,1917.5 896.9,1906.3 877.0,1896.0 C857.1,1885.7 836.9,1875.8 817.0,1864.8 C797.1,1853.8 772.3,1838.7 757.5,1830.0 C742.7,1821.3 732.9,1815.3 728.0,1812.4 Z" fill="url(#g4r)"/>
<path d="M759.0,1812.4 C768.7,1817.5 797.3,1832.6 817.0,1842.8 C836.7,1853.0 857.1,1863.5 877.0,1873.5 C896.9,1883.5 916.6,1894.0 936.5,1903.0 C956.4,1912.0 976.5,1920.0 996.5,1927.5 C1016.5,1935.0 1036.4,1942.0 1056.2,1948.0 C1076.0,1954.0 1105.6,1961.1 1115.5,1963.7" stroke="#d0383a" stroke-width="1" fill="none" stroke-linecap="round" stroke-linejoin="round" />
<path d="M728.0,1812.4 C732.9,1815.3 742.7,1821.3 757.5,1830.0 C772.3,1838.7 797.1,1853.8 817.0,1864.8 C836.9,1875.8 857.1,1885.7 877.0,1896.0 C896.9,1906.3 916.6,1917.5 936.5,1926.4 C956.4,1935.3 976.5,1942.7 996.5,1949.5 C1016.5,1956.3 1036.4,1962.1 1056.2,1967.3 C1076.0,1972.5 1105.6,1978.2 1115.5,1980.4" stroke="#d0383a" stroke-width="1" fill="none" stroke-linecap="round" stroke-linejoin="round" />
<line x1="1115.5" y1="1963.7" x2="1115.5" y2="1980.4" stroke="#d0383a" stroke-width="1" />
<path d="M697.7,1915.2 C707.6,1918.7 737.1,1929.8 757.0,1936.2 C776.9,1942.6 797.0,1947.5 817.0,1953.6 C837.0,1959.7 857.3,1966.4 877.2,1972.8 C897.1,1979.2 916.6,1986.6 936.5,1992.2 C956.4,1997.8 976.5,2002.3 996.5,2006.4 C1016.5,2010.5 1036.4,2014.3 1056.2,2017.0 C1076.0,2019.7 1105.6,2021.5 1115.5,2022.4 L1115.5,2035.9 C1105.6,2035.0 1076.0,2032.8 1056.2,2030.2 C1036.4,2027.7 1016.5,2024.4 996.5,2020.6 C976.5,2016.8 956.4,2012.2 936.5,2007.4 C916.6,2002.6 897.1,1997.7 877.2,1991.9 C857.3,1986.1 837.0,1979.4 817.0,1972.8 C797.0,1966.2 776.9,1958.9 757.0,1952.5 C737.1,1946.1 707.6,1937.4 697.7,1934.4 Z" fill="url(#g4p)"/>
<path d="M697.7,1915.2 C707.6,1918.7 737.1,1929.8 757.0,1936.2 C776.9,1942.6 797.0,1947.5 817.0,1953.6 C837.0,1959.7 857.3,1966.4 877.2,1972.8 C897.1,1979.2 916.6,1986.6 936.5,1992.2 C956.4,1997.8 976.5,2002.3 996.5,2006.4 C1016.5,2010.5 1036.4,2014.3 1056.2,2017.0 C1076.0,2019.7 1105.6,2021.5 1115.5,2022.4" stroke="#98367f" stroke-width="1" fill="none" stroke-linecap="round" stroke-linejoin="round" />
<path d="M697.7,1934.4 C707.6,1937.4 737.1,1946.1 757.0,1952.5 C776.9,1958.9 797.0,1966.2 817.0,1972.8 C837.0,1979.4 857.3,1986.1 877.2,1991.9 C897.1,1997.7 916.6,2002.6 936.5,2007.4 C956.4,2012.2 976.5,2016.8 996.5,2020.6 C1016.5,2024.4 1036.4,2027.7 1056.2,2030.2 C1076.0,2032.8 1105.6,2035.0 1115.5,2035.9" stroke="#98367f" stroke-width="1" fill="none" stroke-linecap="round" stroke-linejoin="round" />
<line x1="1115.5" y1="2022.4" x2="1115.5" y2="2035.9" stroke="#98367f" stroke-width="1" />
<line x1="697.7" y1="1835.6" x2="702.5" y2="1835.6" stroke="#444" stroke-width="1" />
<line x1="697.7" y1="1882.0" x2="702.5" y2="1882.0" stroke="#444" stroke-width="1" />
<line x1="697.7" y1="1928.3" x2="702.5" y2="1928.3" stroke="#444" stroke-width="1" />
<line x1="697.7" y1="1974.3" x2="702.5" y2="1974.3" stroke="#444" stroke-width="1" />
<line x1="697.7" y1="2020.7" x2="702.5" y2="2020.7" stroke="#444" stroke-width="1" />
<text x="692.5" y="1815.9" font-size="10" text-anchor="end" fill="#333" >2.70</text>
<text x="692.5" y="1862.3" font-size="10" text-anchor="end" fill="#333" >2.60</text>
<text x="692.5" y="1908.8" font-size="10" text-anchor="end" fill="#333" >2.50</text>
<text x="692.5" y="1954.8" font-size="10" text-anchor="end" fill="#333" >2.40</text>
<text x="692.5" y="2000.9" font-size="10" text-anchor="end" fill="#333" >2.30</text>
<text x="692.5" y="2047.5" font-size="10" text-anchor="end" fill="#333" >2.20</text>
<text x="697.7" y="2061.0" font-size="10" text-anchor="middle" fill="#333" >−20</text>
<text x="757.5" y="2061.0" font-size="10" text-anchor="middle" fill="#333" >−10</text>
<text x="817.3" y="2061.0" font-size="10" text-anchor="middle" fill="#333" >0</text>
<text x="877.1" y="2061.0" font-size="10" text-anchor="middle" fill="#333" >10</text>
<text x="936.9" y="2061.0" font-size="10" text-anchor="middle" fill="#333" >20</text>
<text x="996.7" y="2061.0" font-size="10" text-anchor="middle" fill="#333" >30</text>
<text x="1056.5" y="2061.0" font-size="10" text-anchor="middle" fill="#333" >40</text>
<text x="1115.5" y="2061.0" font-size="10" text-anchor="middle" fill="#333" >50</text>
<text x="0" y="0" font-size="14" text-anchor="middle" fill="#333" textLength="134.1" lengthAdjust="spacingAndGlyphs" transform="translate(668.9,1921.3) rotate(-90)">Charge Voltage  (v)</text>
<text x="855.3" y="2084.0" font-size="13.5" fill="#333" textLength="108.5" lengthAdjust="spacingAndGlyphs">Temperature(˚C)</text>
<text x="757.7" y="2021.5" font-size="12.5" text-anchor="start" fill="#333" >Float charging</text>
<text x="757.7" y="2035.5" font-size="12.5" text-anchor="start" fill="#333" >2.27~2.30VPC@25˚C</text>
<text x="938.2" y="1878.0" font-size="12.5" text-anchor="start" fill="#333" >Cycle use</text>
<text x="938.2" y="1892.0" font-size="12.5" text-anchor="start" fill="#333" >2.43~2.47VPC@25˚C</text>
</svg>
</body></html>
